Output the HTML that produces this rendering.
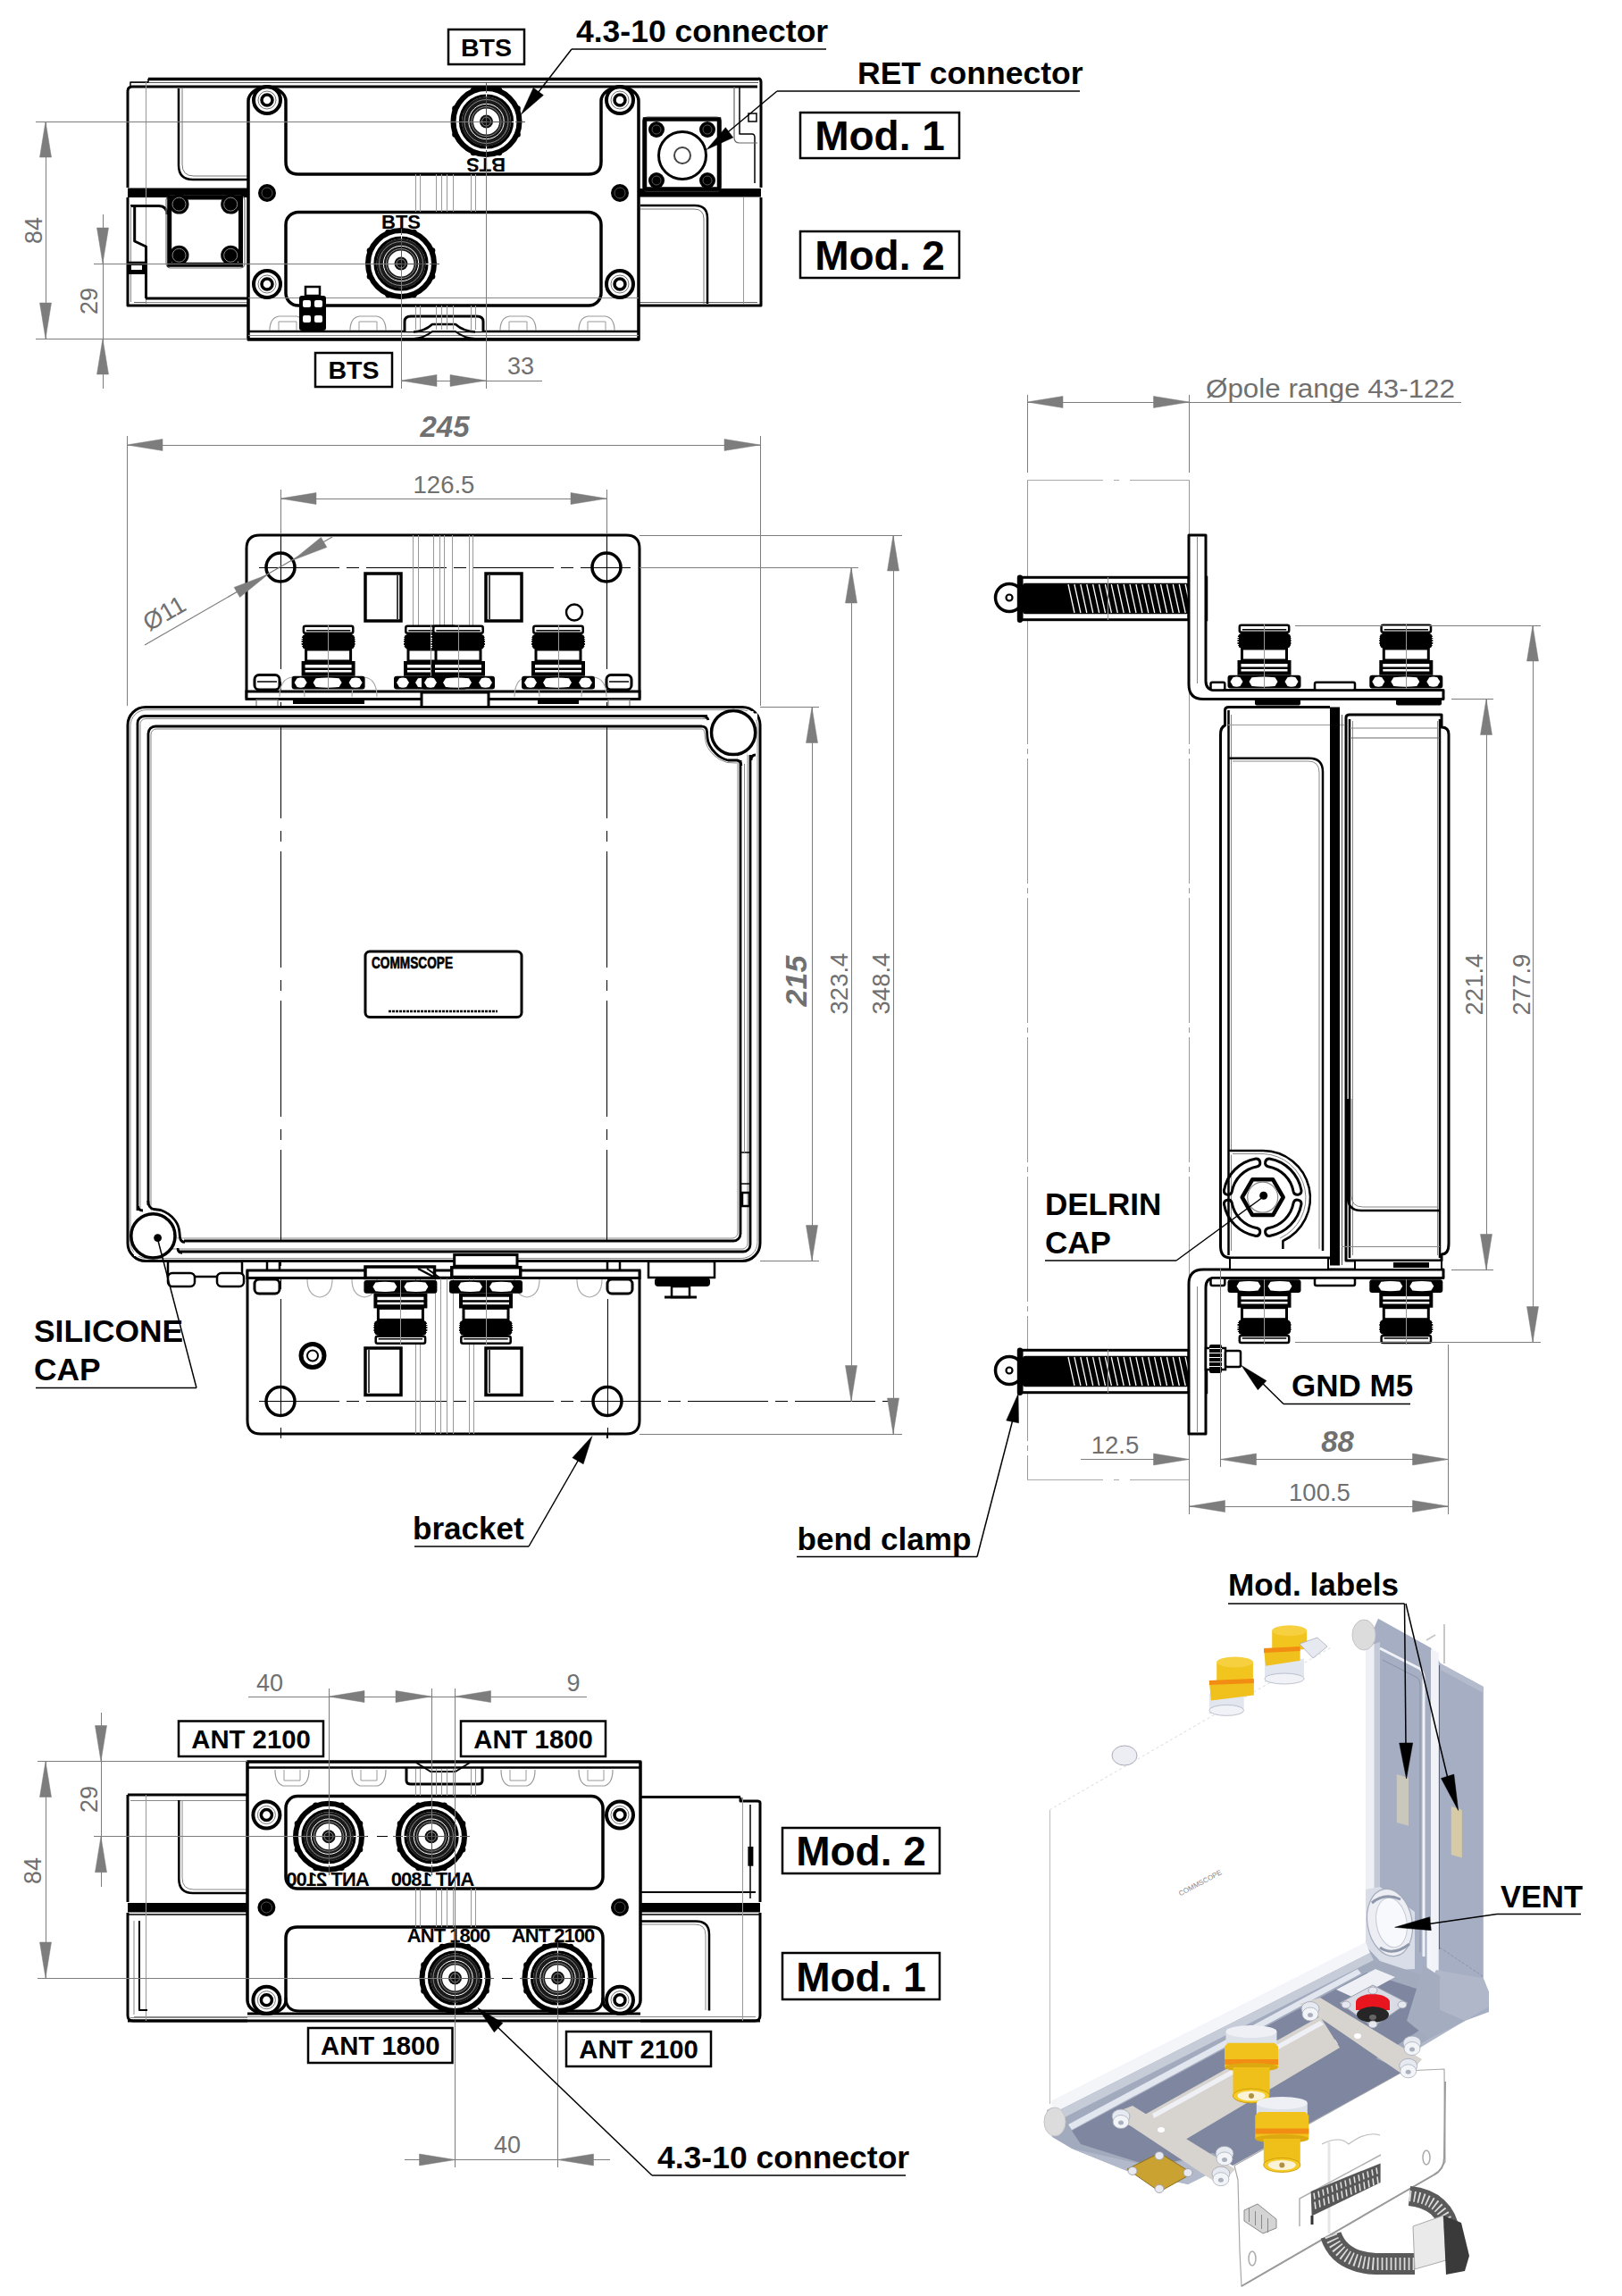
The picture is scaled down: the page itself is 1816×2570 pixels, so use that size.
<!DOCTYPE html>
<html><head><meta charset="utf-8"><style>
html,body{margin:0;padding:0;background:#fff;}
svg{display:block;}
</style></head><body>
<svg width="1816" height="2570" viewBox="0 0 1816 2570" stroke-linecap="butt">
<rect width="1816" height="2570" fill="#fff"/>
<line x1="166" y1="88.6" x2="849" y2="88.6" stroke="#000" stroke-width="3.5" />
<line x1="146" y1="92.5" x2="849" y2="92.5" stroke="#555" stroke-width="1"  shape-rendering="crispEdges"/>
<path d="M143 210 L143 102 Q143 97 148 97 L848 97" stroke="#000" stroke-width="3" fill="none" stroke-linejoin="round" />
<path d="M146 97 L146 92 L166 92 L166 88" stroke="#000" stroke-width="1.5" fill="none" stroke-linejoin="round" />
<path d="M849 88 Q852 88 852 92 L852 210" stroke="#000" stroke-width="3" fill="none" stroke-linejoin="round" />
<rect x="143" y="210.5" width="135" height="10.5" rx="0" fill="#000"/>
<rect x="716" y="211" width="136" height="9.5" rx="0" fill="#000"/>
<path d="M143 221 L143 342 L277 342" stroke="#000" stroke-width="3" fill="none" stroke-linejoin="round" />
<path d="M716 342 L852 342 L852 221" stroke="#000" stroke-width="3" fill="none" stroke-linejoin="round" />
<line x1="150" y1="338" x2="277" y2="338" stroke="#666" stroke-width="1"  shape-rendering="crispEdges"/>
<line x1="716" y1="338" x2="848" y2="338" stroke="#666" stroke-width="1"  shape-rendering="crispEdges"/>
<path d="M200 99 L200 185 Q200 201 216 201 L278 201" stroke="#000" stroke-width="2.5" fill="none" stroke-linejoin="round" />
<path d="M204 99 L204 184 Q204 197 217 197 L278 197" stroke="#777" stroke-width="1" fill="none" stroke-linejoin="round" />
<line x1="163" y1="92" x2="163" y2="340" stroke="#999" stroke-width="1"  shape-rendering="crispEdges"/>
<path d="M150.7 230 L150.7 270 L163.5 276 L163.5 334" stroke="#000" stroke-width="3" fill="none" stroke-linejoin="round" />
<path d="M146 230.6 L178 230.6 Q187 231 187 240" stroke="#000" stroke-width="3" fill="none" stroke-linejoin="round" />
<line x1="146" y1="231" x2="146" y2="338" stroke="#888" stroke-width="1"  shape-rendering="crispEdges"/>
<rect x="143" y="292.7" width="20" height="14.3" rx="0" fill="#000"/>
<rect x="147" y="297" width="12" height="5" rx="0" fill="#fff"/>
<line x1="163" y1="334" x2="277" y2="334" stroke="#000" stroke-width="3" />
<line x1="163" y1="338" x2="277" y2="338" stroke="#888" stroke-width="1"  shape-rendering="crispEdges"/>
<rect x="186" y="219" width="88" height="81" rx="5" stroke="#777" stroke-width="1.2" fill="none" />
<rect x="189.7" y="221" width="79.8" height="75.3" rx="0" stroke="#000" stroke-width="5" fill="none" />
<circle cx="200.5" cy="228.6" r="11" fill="#000"/>
<circle cx="200.5" cy="228.6" r="7.5" stroke="#888" stroke-width="1" fill="none"/>
<circle cx="258.2" cy="228.6" r="11" fill="#000"/>
<circle cx="258.2" cy="228.6" r="7.5" stroke="#888" stroke-width="1" fill="none"/>
<circle cx="200.5" cy="285.8" r="11" fill="#000"/>
<circle cx="200.5" cy="285.8" r="7.5" stroke="#888" stroke-width="1" fill="none"/>
<circle cx="258.2" cy="285.8" r="11" fill="#000"/>
<circle cx="258.2" cy="285.8" r="7.5" stroke="#888" stroke-width="1" fill="none"/>
<path d="M828 97 L828 150 L842 150 Q845 150 845 154 L845 205" stroke="#000" stroke-width="1.5" fill="none" stroke-linejoin="round" />
<path d="M822 97 L822 154 Q822 160 828 160 L848 160" stroke="#666" stroke-width="1.2" fill="none" stroke-linejoin="round" />
<rect x="838" y="127" width="9" height="9" rx="0" stroke="#000" stroke-width="1.5" fill="none" />
<path d="M717 230 L778 230 Q792 230 792 244 L792 340" stroke="#000" stroke-width="2.5" fill="none" stroke-linejoin="round" />
<path d="M717 234 L777 234 Q788 234 788 245 L788 340" stroke="#777" stroke-width="1" fill="none" stroke-linejoin="round" />
<line x1="832" y1="221" x2="832" y2="340" stroke="#999" stroke-width="1"  shape-rendering="crispEdges"/>
<rect x="719.5" y="131" width="88" height="83" rx="5" stroke="#555" stroke-width="1.2" fill="none" />
<rect x="722" y="133.5" width="83" height="78" rx="0" stroke="#000" stroke-width="4.5" fill="none" />
<circle cx="764" cy="174" r="26.5" stroke="#000" stroke-width="3" fill="none"/>
<circle cx="764" cy="174" r="9" stroke="#444" stroke-width="2" fill="none"/>
<circle cx="735" cy="145" r="9" fill="#000"/>
<circle cx="735" cy="145" r="5" stroke="#555" stroke-width="1" fill="none"/>
<circle cx="792" cy="145" r="9" fill="#000"/>
<circle cx="792" cy="145" r="5" stroke="#555" stroke-width="1" fill="none"/>
<circle cx="735" cy="202" r="9" fill="#000"/>
<circle cx="735" cy="202" r="5" stroke="#555" stroke-width="1" fill="none"/>
<circle cx="792" cy="202" r="9" fill="#000"/>
<circle cx="792" cy="202" r="5" stroke="#555" stroke-width="1" fill="none"/>
<path d="M278 380 L278 113 A21 15.5 0 0 1 320 113 L320 181 Q320 195 334 195 L659 195 Q673 195 673 181 L673 113 A21 15.5 0 0 1 715 113 L715 380 Z" stroke="#000" stroke-width="3.5" fill="#fff" stroke-linejoin="round" />
<rect x="320" y="237.5" width="353" height="104.5" rx="14" stroke="#000" stroke-width="3.5" fill="#fff" />
<line x1="278" y1="333" x2="715" y2="333" stroke="#888" stroke-width="1"  shape-rendering="crispEdges"/>
<line x1="278" y1="371" x2="715" y2="371" stroke="#000" stroke-width="2.5" />
<line x1="278" y1="375" x2="715" y2="375" stroke="#888" stroke-width="1"  shape-rendering="crispEdges"/>
<line x1="278" y1="379.5" x2="715" y2="379.5" stroke="#000" stroke-width="3" />
<path d="M453 371 L453 360 Q453 354 460 354 L534 354 Q541 354 541 360 L541 371" stroke="#000" stroke-width="3" fill="#fff" stroke-linejoin="round" />
<path d="M463 371.5 Q475 371 484 363 L510 363 Q519 371 532 371.5" stroke="#000" stroke-width="2.5" fill="none" stroke-linejoin="round" />
<path d="M463 379 Q475 378.5 484 371 L510 371 Q519 378.5 532 379" stroke="#000" stroke-width="2" fill="none" stroke-linejoin="round" />
<path d="M302 370 Q302 356 312 354 L332 354 Q342 356 342 370" stroke="#999" stroke-width="1.2" fill="none" stroke-linejoin="round" />
<path d="M312 370 L312 360 L332 360 L332 370" stroke="#999" stroke-width="1" fill="none" stroke-linejoin="round" />
<path d="M392 370 Q392 356 402 354 L422 354 Q432 356 432 370" stroke="#999" stroke-width="1.2" fill="none" stroke-linejoin="round" />
<path d="M402 370 L402 360 L422 360 L422 370" stroke="#999" stroke-width="1" fill="none" stroke-linejoin="round" />
<path d="M560 370 Q560 356 570 354 L590 354 Q600 356 600 370" stroke="#999" stroke-width="1.2" fill="none" stroke-linejoin="round" />
<path d="M570 370 L570 360 L590 360 L590 370" stroke="#999" stroke-width="1" fill="none" stroke-linejoin="round" />
<path d="M648 370 Q648 356 658 354 L678 354 Q688 356 688 370" stroke="#999" stroke-width="1.2" fill="none" stroke-linejoin="round" />
<path d="M658 370 L658 360 L678 360 L678 370" stroke="#999" stroke-width="1" fill="none" stroke-linejoin="round" />
<line x1="465" y1="195" x2="465" y2="237" stroke="#999" stroke-width="1"  shape-rendering="crispEdges"/>
<line x1="465" y1="342" x2="465" y2="369" stroke="#999" stroke-width="1"  shape-rendering="crispEdges"/>
<line x1="470" y1="195" x2="470" y2="237" stroke="#999" stroke-width="1"  shape-rendering="crispEdges"/>
<line x1="470" y1="342" x2="470" y2="369" stroke="#999" stroke-width="1"  shape-rendering="crispEdges"/>
<line x1="488" y1="195" x2="488" y2="237" stroke="#999" stroke-width="1"  shape-rendering="crispEdges"/>
<line x1="488" y1="342" x2="488" y2="369" stroke="#999" stroke-width="1"  shape-rendering="crispEdges"/>
<line x1="494" y1="195" x2="494" y2="237" stroke="#999" stroke-width="1"  shape-rendering="crispEdges"/>
<line x1="494" y1="342" x2="494" y2="369" stroke="#999" stroke-width="1"  shape-rendering="crispEdges"/>
<line x1="500" y1="195" x2="500" y2="237" stroke="#999" stroke-width="1"  shape-rendering="crispEdges"/>
<line x1="500" y1="342" x2="500" y2="369" stroke="#999" stroke-width="1"  shape-rendering="crispEdges"/>
<line x1="507" y1="195" x2="507" y2="237" stroke="#999" stroke-width="1"  shape-rendering="crispEdges"/>
<line x1="507" y1="342" x2="507" y2="369" stroke="#999" stroke-width="1"  shape-rendering="crispEdges"/>
<line x1="527" y1="195" x2="527" y2="237" stroke="#999" stroke-width="1"  shape-rendering="crispEdges"/>
<line x1="527" y1="342" x2="527" y2="369" stroke="#999" stroke-width="1"  shape-rendering="crispEdges"/>
<line x1="532" y1="195" x2="532" y2="237" stroke="#999" stroke-width="1"  shape-rendering="crispEdges"/>
<line x1="532" y1="342" x2="532" y2="369" stroke="#999" stroke-width="1"  shape-rendering="crispEdges"/>
<circle cx="299" cy="112" r="15" stroke="#000" stroke-width="4" fill="none"/>
<circle cx="299" cy="112" r="10" stroke="#777" stroke-width="1" fill="none"/>
<circle cx="299" cy="112" r="6" stroke="#000" stroke-width="3.5" fill="none"/>
<circle cx="299" cy="112" r="3" fill="#fff"/>
<circle cx="694" cy="112" r="15" stroke="#000" stroke-width="4" fill="none"/>
<circle cx="694" cy="112" r="10" stroke="#777" stroke-width="1" fill="none"/>
<circle cx="694" cy="112" r="6" stroke="#000" stroke-width="3.5" fill="none"/>
<circle cx="694" cy="112" r="3" fill="#fff"/>
<circle cx="299" cy="318" r="15" stroke="#000" stroke-width="4" fill="none"/>
<circle cx="299" cy="318" r="10" stroke="#777" stroke-width="1" fill="none"/>
<circle cx="299" cy="318" r="6" stroke="#000" stroke-width="3.5" fill="none"/>
<circle cx="299" cy="318" r="3" fill="#fff"/>
<circle cx="694" cy="318" r="15" stroke="#000" stroke-width="4" fill="none"/>
<circle cx="694" cy="318" r="10" stroke="#777" stroke-width="1" fill="none"/>
<circle cx="694" cy="318" r="6" stroke="#000" stroke-width="3.5" fill="none"/>
<circle cx="694" cy="318" r="3" fill="#fff"/>
<circle cx="299" cy="216" r="10" fill="#000"/>
<circle cx="299" cy="216" r="6" stroke="#555" stroke-width="1" fill="none"/>
<circle cx="694" cy="216" r="10" fill="#000"/>
<circle cx="694" cy="216" r="6" stroke="#555" stroke-width="1" fill="none"/>
<rect x="342" y="321" width="16" height="10" rx="0" stroke="#000" stroke-width="2.5" fill="#fff" />
<rect x="335" y="331" width="30" height="39" rx="3" fill="#000"/>
<rect x="339" y="336" width="9" height="8" rx="2" fill="#fff"/>
<rect x="352" y="336" width="9" height="8" rx="2" fill="#fff"/>
<rect x="339" y="353" width="9" height="8" rx="2" fill="#fff"/>
<rect x="352" y="353" width="9" height="8" rx="2" fill="#fff"/>
<circle cx="544.5" cy="136" r="37" stroke="#000" stroke-width="6" fill="#fff"/>
<circle cx="579.6" cy="150.5" r="3.2" fill="#000"/>
<circle cx="559" cy="171.1" r="3.2" fill="#000"/>
<circle cx="530" cy="171.1" r="3.2" fill="#000"/>
<circle cx="509.4" cy="150.5" r="3.2" fill="#000"/>
<circle cx="509.4" cy="121.5" r="3.2" fill="#000"/>
<circle cx="530" cy="100.9" r="3.2" fill="#000"/>
<circle cx="559" cy="100.9" r="3.2" fill="#000"/>
<circle cx="579.6" cy="121.5" r="3.2" fill="#000"/>
<circle cx="544.5" cy="136" r="29" stroke="#000" stroke-width="3.2" fill="none"/>
<circle cx="544.5" cy="136" r="21" stroke="#1a1a1a" stroke-width="13" fill="none"/>
<circle cx="544.5" cy="136" r="24.5" stroke="#888" stroke-width="1" fill="none"/>
<circle cx="544.5" cy="136" r="19.7" stroke="#fff" stroke-width="1" fill="none"/>
<circle cx="544.5" cy="136" r="16.5" stroke="#888" stroke-width="1" fill="none"/>
<circle cx="544.5" cy="136" r="7.5" fill="#111"/>
<circle cx="544.5" cy="136" r="5" stroke="#888" stroke-width="1" fill="none"/>
<line x1="501.5" y1="136" x2="587.5" y2="136" stroke="#555" stroke-width="1"  shape-rendering="crispEdges"/>
<line x1="544.5" y1="93" x2="544.5" y2="179" stroke="#555" stroke-width="1"  shape-rendering="crispEdges"/>
<line x1="512.5" y1="136" x2="516.5" y2="136" stroke="#fff" stroke-width="1"  shape-rendering="crispEdges"/>
<line x1="572.5" y1="136" x2="576.5" y2="136" stroke="#fff" stroke-width="1"  shape-rendering="crispEdges"/>
<line x1="544.5" y1="104" x2="544.5" y2="108" stroke="#fff" stroke-width="1"  shape-rendering="crispEdges"/>
<line x1="544.5" y1="164" x2="544.5" y2="168" stroke="#fff" stroke-width="1"  shape-rendering="crispEdges"/>
<circle cx="449" cy="295" r="37" stroke="#000" stroke-width="6" fill="#fff"/>
<circle cx="484.1" cy="309.5" r="3.2" fill="#000"/>
<circle cx="463.5" cy="330.1" r="3.2" fill="#000"/>
<circle cx="434.5" cy="330.1" r="3.2" fill="#000"/>
<circle cx="413.9" cy="309.5" r="3.2" fill="#000"/>
<circle cx="413.9" cy="280.5" r="3.2" fill="#000"/>
<circle cx="434.5" cy="259.9" r="3.2" fill="#000"/>
<circle cx="463.5" cy="259.9" r="3.2" fill="#000"/>
<circle cx="484.1" cy="280.5" r="3.2" fill="#000"/>
<circle cx="449" cy="295" r="29" stroke="#000" stroke-width="3.2" fill="none"/>
<circle cx="449" cy="295" r="21" stroke="#1a1a1a" stroke-width="13" fill="none"/>
<circle cx="449" cy="295" r="24.5" stroke="#888" stroke-width="1" fill="none"/>
<circle cx="449" cy="295" r="19.7" stroke="#fff" stroke-width="1" fill="none"/>
<circle cx="449" cy="295" r="16.5" stroke="#888" stroke-width="1" fill="none"/>
<circle cx="449" cy="295" r="7.5" fill="#111"/>
<circle cx="449" cy="295" r="5" stroke="#888" stroke-width="1" fill="none"/>
<line x1="406" y1="295" x2="492" y2="295" stroke="#555" stroke-width="1"  shape-rendering="crispEdges"/>
<line x1="449" y1="252" x2="449" y2="338" stroke="#555" stroke-width="1"  shape-rendering="crispEdges"/>
<line x1="417" y1="295" x2="421" y2="295" stroke="#fff" stroke-width="1"  shape-rendering="crispEdges"/>
<line x1="477" y1="295" x2="481" y2="295" stroke="#fff" stroke-width="1"  shape-rendering="crispEdges"/>
<line x1="449" y1="263" x2="449" y2="267" stroke="#fff" stroke-width="1"  shape-rendering="crispEdges"/>
<line x1="449" y1="323" x2="449" y2="327" stroke="#fff" stroke-width="1"  shape-rendering="crispEdges"/>
<text x="544" y="193" font-family="Liberation Sans" font-size="22" font-weight="bold" fill="#000" text-anchor="middle" transform="rotate(180 544 185)">BTS</text>
<text x="449" y="256" font-family="Liberation Sans" font-size="22" font-weight="bold" fill="#000" text-anchor="middle" >BTS</text>
<line x1="40" y1="136" x2="544" y2="136" stroke="#7d7d7d" stroke-width="1"  shape-rendering="crispEdges"/>
<line x1="40" y1="379" x2="277" y2="379" stroke="#7d7d7d" stroke-width="1"  shape-rendering="crispEdges"/>
<line x1="51" y1="136" x2="51" y2="379" stroke="#7d7d7d" stroke-width="1"  shape-rendering="crispEdges"/>
<polygon points="51,136 57.5,176 44.5,176" stroke="#7d7d7d" stroke-width="0.5" fill="#7d7d7d" stroke-linejoin="round" />
<polygon points="51,379 44.5,339 57.5,339" stroke="#7d7d7d" stroke-width="0.5" fill="#7d7d7d" stroke-linejoin="round" />
<text x="47" y="258" font-family="Liberation Sans" font-size="27" font-weight="normal" fill="#707070" text-anchor="middle" transform="rotate(-90 47 258)" >84</text>
<line x1="105" y1="295" x2="449" y2="295" stroke="#7d7d7d" stroke-width="1"  shape-rendering="crispEdges"/>
<line x1="115" y1="240" x2="115" y2="435" stroke="#7d7d7d" stroke-width="1"  shape-rendering="crispEdges"/>
<polygon points="115,295 108.5,255 121.5,255" stroke="#7d7d7d" stroke-width="0.5" fill="#7d7d7d" stroke-linejoin="round" />
<polygon points="115,379 121.5,419 108.5,419" stroke="#7d7d7d" stroke-width="0.5" fill="#7d7d7d" stroke-linejoin="round" />
<text x="109" y="337" font-family="Liberation Sans" font-size="27" font-weight="normal" fill="#707070" text-anchor="middle" transform="rotate(-90 109 337)" >29</text>
<line x1="449" y1="298" x2="449" y2="435" stroke="#7d7d7d" stroke-width="1"  shape-rendering="crispEdges"/>
<line x1="544" y1="176" x2="544" y2="435" stroke="#7d7d7d" stroke-width="1"  shape-rendering="crispEdges"/>
<line x1="449" y1="426" x2="607" y2="426" stroke="#7d7d7d" stroke-width="1"  shape-rendering="crispEdges"/>
<polygon points="449,426 489,419.5 489,432.5" stroke="#7d7d7d" stroke-width="0.5" fill="#7d7d7d" stroke-linejoin="round" />
<polygon points="544,426 504,432.5 504,419.5" stroke="#7d7d7d" stroke-width="0.5" fill="#7d7d7d" stroke-linejoin="round" />
<text x="583" y="419" font-family="Liberation Sans" font-size="27" font-weight="normal" fill="#707070" text-anchor="middle" >33</text>
<rect x="502" y="33" width="85" height="39" rx="0" stroke="#000" stroke-width="2.5" fill="none" />
<text x="544.5" y="62.8" font-family="Liberation Sans" font-size="28.5" font-weight="bold" fill="#000" text-anchor="middle" >BTS</text>
<rect x="353" y="395" width="86" height="38" rx="0" stroke="#000" stroke-width="2.5" fill="none" />
<text x="396" y="424.3" font-family="Liberation Sans" font-size="28.5" font-weight="bold" fill="#000" text-anchor="middle" >BTS</text>
<text x="645" y="47" font-family="Liberation Sans" font-size="35.5" font-weight="bold" fill="#000" text-anchor="start" >4.3-10 connector</text>
<line x1="640" y1="55" x2="925" y2="55" stroke="#000" stroke-width="1.5" />
<line x1="640" y1="55" x2="596" y2="112" stroke="#000" stroke-width="1.5" />
<polygon points="583.6,128 597.2,98.2 608.4,106.6" stroke="#000" stroke-width="0.5" fill="#000" stroke-linejoin="round" />
<text x="960" y="94" font-family="Liberation Sans" font-size="35.5" font-weight="bold" fill="#000" text-anchor="start" >RET connector</text>
<line x1="870" y1="102" x2="1209" y2="102" stroke="#000" stroke-width="1.5" />
<line x1="870" y1="102" x2="810" y2="152" stroke="#000" stroke-width="1.5" />
<polygon points="791,167.5 812.4,142.7 820.8,153.9" stroke="#000" stroke-width="0.5" fill="#000" stroke-linejoin="round" />
<rect x="896" y="126" width="178" height="51" rx="0" stroke="#000" stroke-width="2.5" fill="none" />
<text x="985" y="168.1" font-family="Liberation Sans" font-size="46" font-weight="bold" fill="#000" text-anchor="middle" >Mod. 1</text>
<rect x="896" y="259" width="178" height="52" rx="0" stroke="#000" stroke-width="2.5" fill="none" />
<text x="985" y="301.6" font-family="Liberation Sans" font-size="46" font-weight="bold" fill="#000" text-anchor="middle" >Mod. 2</text>
<line x1="314" y1="590" x2="314" y2="1612" stroke="#000" stroke-width="1" stroke-dasharray="130 14 12.5 10.5" stroke-dashoffset="138.5" shape-rendering="crispEdges"/>
<line x1="679" y1="590" x2="679" y2="1612" stroke="#000" stroke-width="1" stroke-dasharray="130 14 12.5 10.5" stroke-dashoffset="138.5" shape-rendering="crispEdges"/>
<path d="M276 782 L276 614 Q276 599 291 599 L701 599 Q716 599 716 614 L716 782" stroke="#000" stroke-width="3" fill="#fff" stroke-linejoin="round" />
<circle cx="314" cy="635" r="16" stroke="#000" stroke-width="3.5" fill="none"/>
<circle cx="679" cy="635" r="16" stroke="#000" stroke-width="3.5" fill="none"/>
<line x1="290" y1="635" x2="706" y2="635" stroke="#000" stroke-width="1" stroke-dasharray="90 8 14 8" shape-rendering="crispEdges"/>
<line x1="314" y1="599" x2="314" y2="660" stroke="#000" stroke-width="1"  shape-rendering="crispEdges"/>
<line x1="679" y1="599" x2="679" y2="660" stroke="#000" stroke-width="1"  shape-rendering="crispEdges"/>
<rect x="409" y="642" width="40" height="53" rx="0" stroke="#000" stroke-width="3.5" fill="none" />
<line x1="445" y1="644" x2="445" y2="693" stroke="#000" stroke-width="1.5" />
<rect x="544" y="642" width="40" height="53" rx="0" stroke="#000" stroke-width="3.5" fill="none" />
<line x1="548" y1="644" x2="548" y2="693" stroke="#000" stroke-width="1.5" />
<circle cx="643" cy="685.5" r="9" stroke="#000" stroke-width="2.5" fill="none"/>
<line x1="462.5" y1="599" x2="462.5" y2="705" stroke="#999" stroke-width="1"  shape-rendering="crispEdges"/>
<line x1="468.5" y1="599" x2="468.5" y2="705" stroke="#999" stroke-width="1"  shape-rendering="crispEdges"/>
<line x1="485" y1="599" x2="485" y2="705" stroke="#999" stroke-width="1"  shape-rendering="crispEdges"/>
<line x1="492.5" y1="599" x2="492.5" y2="705" stroke="#999" stroke-width="1"  shape-rendering="crispEdges"/>
<line x1="497.5" y1="599" x2="497.5" y2="705" stroke="#999" stroke-width="1"  shape-rendering="crispEdges"/>
<line x1="506" y1="599" x2="506" y2="705" stroke="#999" stroke-width="1"  shape-rendering="crispEdges"/>
<line x1="525" y1="599" x2="525" y2="705" stroke="#999" stroke-width="1"  shape-rendering="crispEdges"/>
<line x1="529" y1="599" x2="529" y2="705" stroke="#999" stroke-width="1"  shape-rendering="crispEdges"/>
<line x1="314" y1="660" x2="314" y2="774" stroke="#000" stroke-width="1" stroke-dasharray="130 14 12.5 10.5" stroke-dashoffset="208.5" shape-rendering="crispEdges"/>
<line x1="679" y1="660" x2="679" y2="774" stroke="#000" stroke-width="1" stroke-dasharray="130 14 12.5 10.5" stroke-dashoffset="208.5" shape-rendering="crispEdges"/>
<rect x="276" y="774" width="440" height="8.5" rx="0" stroke="#000" stroke-width="3" fill="#fff" />
<rect x="285" y="755.5" width="28" height="16.5" rx="5" stroke="#000" stroke-width="3" fill="#fff" />
<line x1="288" y1="763" x2="310" y2="763" stroke="#000" stroke-width="1.5" />
<rect x="287" y="783" width="24" height="17" rx="0" stroke="#777" stroke-width="1.2" fill="none" />
<rect x="679" y="755.5" width="28" height="16.5" rx="5" stroke="#000" stroke-width="3" fill="#fff" />
<line x1="682" y1="763" x2="704" y2="763" stroke="#000" stroke-width="1.5" />
<rect x="681" y="783" width="24" height="17" rx="0" stroke="#777" stroke-width="1.2" fill="none" />
<path d="M313 780 Q313 760 327 758 Q341 760 341 780" stroke="#aaa" stroke-width="1.2" fill="none" stroke-linejoin="round" />
<path d="M394 780 Q394 760 408 758 Q422 760 422 780" stroke="#aaa" stroke-width="1.2" fill="none" stroke-linejoin="round" />
<path d="M576 780 Q576 760 590 758 Q604 760 604 780" stroke="#aaa" stroke-width="1.2" fill="none" stroke-linejoin="round" />
<path d="M651 780 Q651 760 665 758 Q679 760 679 780" stroke="#aaa" stroke-width="1.2" fill="none" stroke-linejoin="round" />
<rect x="339.9" y="700.7" width="55.4" height="8" rx="2" stroke="#000" stroke-width="2.5" fill="#fff" />
<line x1="342.9" y1="705.7" x2="392.3" y2="705.7" stroke="#000" stroke-width="1.5" />
<rect x="337.6" y="709.4" width="60" height="17.6" rx="6" fill="#000"/>
<line x1="336.1" y1="711.9" x2="338.6" y2="711.9" stroke="#fff" stroke-width="1"  shape-rendering="crispEdges"/>
<line x1="396.6" y1="711.9" x2="399.1" y2="711.9" stroke="#fff" stroke-width="1"  shape-rendering="crispEdges"/>
<line x1="336.1" y1="714.4" x2="338.6" y2="714.4" stroke="#fff" stroke-width="1"  shape-rendering="crispEdges"/>
<line x1="396.6" y1="714.4" x2="399.1" y2="714.4" stroke="#fff" stroke-width="1"  shape-rendering="crispEdges"/>
<line x1="336.1" y1="716.9" x2="338.6" y2="716.9" stroke="#fff" stroke-width="1"  shape-rendering="crispEdges"/>
<line x1="396.6" y1="716.9" x2="399.1" y2="716.9" stroke="#fff" stroke-width="1"  shape-rendering="crispEdges"/>
<line x1="336.1" y1="719.5" x2="338.6" y2="719.5" stroke="#fff" stroke-width="1"  shape-rendering="crispEdges"/>
<line x1="396.6" y1="719.5" x2="399.1" y2="719.5" stroke="#fff" stroke-width="1"  shape-rendering="crispEdges"/>
<line x1="336.1" y1="722" x2="338.6" y2="722" stroke="#fff" stroke-width="1"  shape-rendering="crispEdges"/>
<line x1="396.6" y1="722" x2="399.1" y2="722" stroke="#fff" stroke-width="1"  shape-rendering="crispEdges"/>
<line x1="336.1" y1="724.5" x2="338.6" y2="724.5" stroke="#fff" stroke-width="1"  shape-rendering="crispEdges"/>
<line x1="396.6" y1="724.5" x2="399.1" y2="724.5" stroke="#fff" stroke-width="1"  shape-rendering="crispEdges"/>
<rect x="342.6" y="727" width="50" height="13" rx="0" stroke="#000" stroke-width="3" fill="#fff" />
<rect x="337.6" y="740" width="60" height="16.7" rx="0" fill="#000"/>
<rect x="341.6" y="744" width="52" height="3.5" rx="0" fill="#fff"/>
<rect x="341.6" y="750" width="52" height="2.5" rx="0" fill="#fff"/>
<rect x="326.6" y="756.7" width="82" height="14.7" rx="3" fill="#000"/>
<path d="M329.6 764.1 L332.6 759.2 Q336.6 757.7 340.6 759.2 L343.6 764.1 L340.6 768.9 Q336.6 770.4 332.6 768.9 Z" stroke="#000" stroke-width="0" fill="#fff" stroke-linejoin="round" />
<path d="M350.6 764.1 L353.6 759.2 Q366.6 757.7 379.6 759.2 L382.6 764.1 L379.6 768.9 Q366.6 770.4 353.6 768.9 Z" stroke="#000" stroke-width="0" fill="#fff" stroke-linejoin="round" />
<path d="M390.6 764.1 L393.6 759.2 Q398.1 757.7 402.6 759.2 L405.6 764.1 L402.6 768.9 Q398.1 770.4 393.6 768.9 Z" stroke="#000" stroke-width="0" fill="#fff" stroke-linejoin="round" />
<line x1="367.6" y1="698.7" x2="367.6" y2="771.7" stroke="#999" stroke-width="1"  shape-rendering="crispEdges"/>
<rect x="454.3" y="700.7" width="55.4" height="8" rx="2" stroke="#000" stroke-width="2.5" fill="#fff" />
<line x1="457.3" y1="705.7" x2="506.7" y2="705.7" stroke="#000" stroke-width="1.5" />
<rect x="452" y="709.4" width="60" height="17.6" rx="6" fill="#000"/>
<line x1="450.5" y1="711.9" x2="453" y2="711.9" stroke="#fff" stroke-width="1"  shape-rendering="crispEdges"/>
<line x1="511" y1="711.9" x2="513.5" y2="711.9" stroke="#fff" stroke-width="1"  shape-rendering="crispEdges"/>
<line x1="450.5" y1="714.4" x2="453" y2="714.4" stroke="#fff" stroke-width="1"  shape-rendering="crispEdges"/>
<line x1="511" y1="714.4" x2="513.5" y2="714.4" stroke="#fff" stroke-width="1"  shape-rendering="crispEdges"/>
<line x1="450.5" y1="716.9" x2="453" y2="716.9" stroke="#fff" stroke-width="1"  shape-rendering="crispEdges"/>
<line x1="511" y1="716.9" x2="513.5" y2="716.9" stroke="#fff" stroke-width="1"  shape-rendering="crispEdges"/>
<line x1="450.5" y1="719.5" x2="453" y2="719.5" stroke="#fff" stroke-width="1"  shape-rendering="crispEdges"/>
<line x1="511" y1="719.5" x2="513.5" y2="719.5" stroke="#fff" stroke-width="1"  shape-rendering="crispEdges"/>
<line x1="450.5" y1="722" x2="453" y2="722" stroke="#fff" stroke-width="1"  shape-rendering="crispEdges"/>
<line x1="511" y1="722" x2="513.5" y2="722" stroke="#fff" stroke-width="1"  shape-rendering="crispEdges"/>
<line x1="450.5" y1="724.5" x2="453" y2="724.5" stroke="#fff" stroke-width="1"  shape-rendering="crispEdges"/>
<line x1="511" y1="724.5" x2="513.5" y2="724.5" stroke="#fff" stroke-width="1"  shape-rendering="crispEdges"/>
<rect x="457" y="727" width="50" height="13" rx="0" stroke="#000" stroke-width="3" fill="#fff" />
<rect x="452" y="740" width="60" height="16.7" rx="0" fill="#000"/>
<rect x="456" y="744" width="52" height="3.5" rx="0" fill="#fff"/>
<rect x="456" y="750" width="52" height="2.5" rx="0" fill="#fff"/>
<rect x="441" y="756.7" width="82" height="14.7" rx="3" fill="#000"/>
<path d="M444 764.1 L447 759.2 Q451 757.7 455 759.2 L458 764.1 L455 768.9 Q451 770.4 447 768.9 Z" stroke="#000" stroke-width="0" fill="#fff" stroke-linejoin="round" />
<path d="M465 764.1 L468 759.2 Q481 757.7 494 759.2 L497 764.1 L494 768.9 Q481 770.4 468 768.9 Z" stroke="#000" stroke-width="0" fill="#fff" stroke-linejoin="round" />
<path d="M505 764.1 L508 759.2 Q512.5 757.7 517 759.2 L520 764.1 L517 768.9 Q512.5 770.4 508 768.9 Z" stroke="#000" stroke-width="0" fill="#fff" stroke-linejoin="round" />
<line x1="482" y1="698.7" x2="482" y2="771.7" stroke="#999" stroke-width="1"  shape-rendering="crispEdges"/>
<rect x="485.3" y="700.7" width="55.4" height="8" rx="2" stroke="#000" stroke-width="2.5" fill="#fff" />
<line x1="488.3" y1="705.7" x2="537.7" y2="705.7" stroke="#000" stroke-width="1.5" />
<rect x="483" y="709.4" width="60" height="17.6" rx="6" fill="#000"/>
<line x1="481.5" y1="711.9" x2="484" y2="711.9" stroke="#fff" stroke-width="1"  shape-rendering="crispEdges"/>
<line x1="542" y1="711.9" x2="544.5" y2="711.9" stroke="#fff" stroke-width="1"  shape-rendering="crispEdges"/>
<line x1="481.5" y1="714.4" x2="484" y2="714.4" stroke="#fff" stroke-width="1"  shape-rendering="crispEdges"/>
<line x1="542" y1="714.4" x2="544.5" y2="714.4" stroke="#fff" stroke-width="1"  shape-rendering="crispEdges"/>
<line x1="481.5" y1="716.9" x2="484" y2="716.9" stroke="#fff" stroke-width="1"  shape-rendering="crispEdges"/>
<line x1="542" y1="716.9" x2="544.5" y2="716.9" stroke="#fff" stroke-width="1"  shape-rendering="crispEdges"/>
<line x1="481.5" y1="719.5" x2="484" y2="719.5" stroke="#fff" stroke-width="1"  shape-rendering="crispEdges"/>
<line x1="542" y1="719.5" x2="544.5" y2="719.5" stroke="#fff" stroke-width="1"  shape-rendering="crispEdges"/>
<line x1="481.5" y1="722" x2="484" y2="722" stroke="#fff" stroke-width="1"  shape-rendering="crispEdges"/>
<line x1="542" y1="722" x2="544.5" y2="722" stroke="#fff" stroke-width="1"  shape-rendering="crispEdges"/>
<line x1="481.5" y1="724.5" x2="484" y2="724.5" stroke="#fff" stroke-width="1"  shape-rendering="crispEdges"/>
<line x1="542" y1="724.5" x2="544.5" y2="724.5" stroke="#fff" stroke-width="1"  shape-rendering="crispEdges"/>
<rect x="488" y="727" width="50" height="13" rx="0" stroke="#000" stroke-width="3" fill="#fff" />
<rect x="483" y="740" width="60" height="16.7" rx="0" fill="#000"/>
<rect x="487" y="744" width="52" height="3.5" rx="0" fill="#fff"/>
<rect x="487" y="750" width="52" height="2.5" rx="0" fill="#fff"/>
<rect x="472" y="756.7" width="82" height="14.7" rx="3" fill="#000"/>
<path d="M475 764.1 L478 759.2 Q482 757.7 486 759.2 L489 764.1 L486 768.9 Q482 770.4 478 768.9 Z" stroke="#000" stroke-width="0" fill="#fff" stroke-linejoin="round" />
<path d="M496 764.1 L499 759.2 Q512 757.7 525 759.2 L528 764.1 L525 768.9 Q512 770.4 499 768.9 Z" stroke="#000" stroke-width="0" fill="#fff" stroke-linejoin="round" />
<path d="M536 764.1 L539 759.2 Q543.5 757.7 548 759.2 L551 764.1 L548 768.9 Q543.5 770.4 539 768.9 Z" stroke="#000" stroke-width="0" fill="#fff" stroke-linejoin="round" />
<line x1="513" y1="698.7" x2="513" y2="771.7" stroke="#999" stroke-width="1"  shape-rendering="crispEdges"/>
<rect x="597.3" y="700.7" width="55.4" height="8" rx="2" stroke="#000" stroke-width="2.5" fill="#fff" />
<line x1="600.3" y1="705.7" x2="649.7" y2="705.7" stroke="#000" stroke-width="1.5" />
<rect x="595" y="709.4" width="60" height="17.6" rx="6" fill="#000"/>
<line x1="593.5" y1="711.9" x2="596" y2="711.9" stroke="#fff" stroke-width="1"  shape-rendering="crispEdges"/>
<line x1="654" y1="711.9" x2="656.5" y2="711.9" stroke="#fff" stroke-width="1"  shape-rendering="crispEdges"/>
<line x1="593.5" y1="714.4" x2="596" y2="714.4" stroke="#fff" stroke-width="1"  shape-rendering="crispEdges"/>
<line x1="654" y1="714.4" x2="656.5" y2="714.4" stroke="#fff" stroke-width="1"  shape-rendering="crispEdges"/>
<line x1="593.5" y1="716.9" x2="596" y2="716.9" stroke="#fff" stroke-width="1"  shape-rendering="crispEdges"/>
<line x1="654" y1="716.9" x2="656.5" y2="716.9" stroke="#fff" stroke-width="1"  shape-rendering="crispEdges"/>
<line x1="593.5" y1="719.5" x2="596" y2="719.5" stroke="#fff" stroke-width="1"  shape-rendering="crispEdges"/>
<line x1="654" y1="719.5" x2="656.5" y2="719.5" stroke="#fff" stroke-width="1"  shape-rendering="crispEdges"/>
<line x1="593.5" y1="722" x2="596" y2="722" stroke="#fff" stroke-width="1"  shape-rendering="crispEdges"/>
<line x1="654" y1="722" x2="656.5" y2="722" stroke="#fff" stroke-width="1"  shape-rendering="crispEdges"/>
<line x1="593.5" y1="724.5" x2="596" y2="724.5" stroke="#fff" stroke-width="1"  shape-rendering="crispEdges"/>
<line x1="654" y1="724.5" x2="656.5" y2="724.5" stroke="#fff" stroke-width="1"  shape-rendering="crispEdges"/>
<rect x="600" y="727" width="50" height="13" rx="0" stroke="#000" stroke-width="3" fill="#fff" />
<rect x="595" y="740" width="60" height="16.7" rx="0" fill="#000"/>
<rect x="599" y="744" width="52" height="3.5" rx="0" fill="#fff"/>
<rect x="599" y="750" width="52" height="2.5" rx="0" fill="#fff"/>
<rect x="584" y="756.7" width="82" height="14.7" rx="3" fill="#000"/>
<path d="M587 764.1 L590 759.2 Q594 757.7 598 759.2 L601 764.1 L598 768.9 Q594 770.4 590 768.9 Z" stroke="#000" stroke-width="0" fill="#fff" stroke-linejoin="round" />
<path d="M608 764.1 L611 759.2 Q624 757.7 637 759.2 L640 764.1 L637 768.9 Q624 770.4 611 768.9 Z" stroke="#000" stroke-width="0" fill="#fff" stroke-linejoin="round" />
<path d="M648 764.1 L651 759.2 Q655.5 757.7 660 759.2 L663 764.1 L660 768.9 Q655.5 770.4 651 768.9 Z" stroke="#000" stroke-width="0" fill="#fff" stroke-linejoin="round" />
<line x1="625" y1="698.7" x2="625" y2="771.7" stroke="#999" stroke-width="1"  shape-rendering="crispEdges"/>
<rect x="328" y="782.5" width="80" height="5.5" rx="0" stroke="#000" stroke-width="0" fill="#000" />
<rect x="472" y="775" width="75" height="24" rx="0" stroke="#000" stroke-width="3" fill="#fff" />
<rect x="602" y="782.5" width="46" height="5.5" rx="0" stroke="#000" stroke-width="0" fill="#000" />
<rect x="143" y="791.5" width="708" height="620" rx="20" stroke="#000" stroke-width="3" fill="#fff" />
<rect x="146" y="794.5" width="702" height="614" rx="18" stroke="#888" stroke-width="1" fill="none" />
<rect x="154" y="801.5" width="686" height="599.5" rx="8" stroke="#000" stroke-width="2.8" fill="none" />
<rect x="157" y="804.5" width="680" height="593.5" rx="6" stroke="#888" stroke-width="1" fill="none" />
<rect x="166" y="813" width="663" height="576" rx="8" stroke="#000" stroke-width="2.8" fill="none" />
<rect x="169" y="816" width="657" height="570" rx="6" stroke="#888" stroke-width="1" fill="none" />
<line x1="314" y1="813" x2="314" y2="1389" stroke="#000" stroke-width="1" stroke-dasharray="130 14 12.5 10.5" stroke-dashoffset="27.5" shape-rendering="crispEdges"/>
<line x1="679" y1="813" x2="679" y2="1389" stroke="#000" stroke-width="1" stroke-dasharray="130 14 12.5 10.5" stroke-dashoffset="27.5" shape-rendering="crispEdges"/>
<rect x="792" y="798.5" width="56" height="7" rx="0" fill="#fff"/>
<rect x="836.5" y="796" width="7" height="49" rx="0" fill="#fff"/>
<rect x="786" y="810" width="46" height="7" rx="0" fill="#fff"/>
<rect x="825.5" y="808" width="7" height="43" rx="0" fill="#fff"/>
<path d="M786 801.5 Q792 801.5 793 806" stroke="#000" stroke-width="2.8" fill="none" stroke-linejoin="round" />
<path d="M846 845 Q841 845 841 851" stroke="#000" stroke-width="2.8" fill="none" stroke-linejoin="round" />
<path d="M786 813.2 Q791 813.2 791.5 819 L792 826 Q793 835 801 843 Q807 849 815 851 L825 851 Q829.8 851.5 829.8 857" stroke="#000" stroke-width="2.8" fill="none" stroke-linejoin="round" />
<path d="M786 816 Q788.5 816 789 821 L789.5 827 Q790.5 837 799 845 Q805 851 814 853.5 L825 854" stroke="#888" stroke-width="1" fill="none" stroke-linejoin="round" />
<circle cx="821.1" cy="820" r="24.6" stroke="#000" stroke-width="3.5" fill="#fff"/>
<rect x="151" y="1355" width="7" height="43" rx="0" fill="#fff"/>
<rect x="150" y="1399" width="50" height="7" rx="0" fill="#fff"/>
<rect x="162.5" y="1349" width="7" height="45" rx="0" fill="#fff"/>
<rect x="165" y="1386.5" width="41" height="7" rx="0" fill="#fff"/>
<path d="M154.6 1350 Q154.6 1355 160 1355" stroke="#000" stroke-width="2.8" fill="none" stroke-linejoin="round" />
<path d="M199 1397 Q199 1402.4 204 1402.4" stroke="#000" stroke-width="2.8" fill="none" stroke-linejoin="round" />
<path d="M165.8 1344 Q165.8 1352 172 1353.5 L180 1354.5 Q190 1358 196 1366 Q200.5 1372 201 1380 L201.5 1385 Q202 1390.3 207 1390.3" stroke="#000" stroke-width="2.8" fill="none" stroke-linejoin="round" />
<circle cx="171.4" cy="1383.4" r="24.6" stroke="#000" stroke-width="3.5" fill="#fff"/>
<circle cx="176.6" cy="1385.6" r="4.4" fill="#000"/>
<rect x="829" y="1290" width="11" height="35" rx="0" stroke="#000" stroke-width="1.5" fill="none" />
<rect x="831" y="1335" width="8" height="15" rx="0" stroke="#000" stroke-width="2.5" fill="none" />
<line x1="833" y1="855" x2="833" y2="1290" stroke="#888" stroke-width="1"  shape-rendering="crispEdges"/>
<rect x="409" y="1065" width="175" height="73.5" rx="5" stroke="#000" stroke-width="3" fill="#fff" />
<text x="416" y="1084" font-family="Liberation Sans" font-size="18" font-weight="bold" fill="#000" text-anchor="start" textLength="91" lengthAdjust="spacingAndGlyphs" stroke="#000" stroke-width="0.6">COMMSCOPE</text>
<line x1="435" y1="1132" x2="557" y2="1132" stroke="#000" stroke-width="2.5" stroke-dasharray="3 1"/>
<rect x="188" y="1412" width="83" height="17" rx="0" stroke="#000" stroke-width="2.5" fill="#fff" />
<rect x="188" y="1425" width="30" height="15" rx="5" stroke="#000" stroke-width="2.5" fill="#fff" />
<rect x="243" y="1425" width="30" height="15" rx="5" stroke="#000" stroke-width="2.5" fill="#fff" />
<path d="M277 1422 L277 1590 Q277 1605 292 1605 L701 1605 Q716 1605 716 1590 L716 1422" stroke="#000" stroke-width="3" fill="#fff" stroke-linejoin="round" />
<rect x="277" y="1422" width="439" height="8.5" rx="0" stroke="#000" stroke-width="3" fill="#fff" />
<line x1="299" y1="1412" x2="299" y2="1422" stroke="#000" stroke-width="2.5" />
<line x1="313" y1="1412" x2="313" y2="1422" stroke="#000" stroke-width="2.5" />
<line x1="680" y1="1412" x2="680" y2="1422" stroke="#000" stroke-width="2.5" />
<line x1="694" y1="1412" x2="694" y2="1422" stroke="#000" stroke-width="2.5" />
<rect x="285" y="1432" width="28" height="16" rx="5" stroke="#000" stroke-width="3" fill="#fff" />
<rect x="680" y="1432" width="28" height="16" rx="5" stroke="#000" stroke-width="3" fill="#fff" />
<line x1="314" y1="1430" x2="314" y2="1612" stroke="#000" stroke-width="1" stroke-dasharray="130 14 12.5 10.5" stroke-dashoffset="143.5" shape-rendering="crispEdges"/>
<line x1="680" y1="1430" x2="680" y2="1612" stroke="#000" stroke-width="1" stroke-dasharray="130 14 12.5 10.5" stroke-dashoffset="143.5" shape-rendering="crispEdges"/>
<circle cx="314" cy="1568.5" r="16" stroke="#000" stroke-width="3.5" fill="none"/>
<circle cx="680" cy="1568.5" r="16" stroke="#000" stroke-width="3.5" fill="none"/>
<line x1="290" y1="1568.5" x2="1010" y2="1568.5" stroke="#000" stroke-width="1" stroke-dasharray="90 8 14 8" shape-rendering="crispEdges"/>
<rect x="409" y="1509" width="40" height="52.5" rx="0" stroke="#000" stroke-width="3.5" fill="none" />
<line x1="413" y1="1511" x2="413" y2="1559" stroke="#000" stroke-width="1.5" />
<rect x="544" y="1509" width="40" height="52.5" rx="0" stroke="#000" stroke-width="3.5" fill="none" />
<line x1="548" y1="1511" x2="548" y2="1559" stroke="#000" stroke-width="1.5" />
<circle cx="350" cy="1517.5" r="13" stroke="#000" stroke-width="5" fill="none"/>
<circle cx="350" cy="1517.5" r="6" stroke="#000" stroke-width="2" fill="none"/>
<line x1="465" y1="1430" x2="465" y2="1605" stroke="#999" stroke-width="1"  shape-rendering="crispEdges"/>
<line x1="470" y1="1430" x2="470" y2="1605" stroke="#999" stroke-width="1"  shape-rendering="crispEdges"/>
<line x1="487" y1="1430" x2="487" y2="1605" stroke="#999" stroke-width="1"  shape-rendering="crispEdges"/>
<line x1="493" y1="1430" x2="493" y2="1605" stroke="#999" stroke-width="1"  shape-rendering="crispEdges"/>
<line x1="500" y1="1430" x2="500" y2="1605" stroke="#999" stroke-width="1"  shape-rendering="crispEdges"/>
<line x1="507" y1="1430" x2="507" y2="1605" stroke="#999" stroke-width="1"  shape-rendering="crispEdges"/>
<line x1="525" y1="1430" x2="525" y2="1605" stroke="#999" stroke-width="1"  shape-rendering="crispEdges"/>
<line x1="530" y1="1430" x2="530" y2="1605" stroke="#999" stroke-width="1"  shape-rendering="crispEdges"/>
<path d="M344 1432 Q344 1450 358 1452 Q372 1450 372 1432" stroke="#aaa" stroke-width="1.2" fill="none" stroke-linejoin="round" />
<path d="M394 1432 Q394 1450 408 1452 Q422 1450 422 1432" stroke="#aaa" stroke-width="1.2" fill="none" stroke-linejoin="round" />
<path d="M576 1432 Q576 1450 590 1452 Q604 1450 604 1432" stroke="#aaa" stroke-width="1.2" fill="none" stroke-linejoin="round" />
<path d="M646 1432 Q646 1450 660 1452 Q674 1450 674 1432" stroke="#aaa" stroke-width="1.2" fill="none" stroke-linejoin="round" />
<rect x="420.7" y="1495.7" width="55.4" height="8" rx="2" stroke="#000" stroke-width="2.5" fill="#fff" />
<line x1="423.7" y1="1498.7" x2="473.1" y2="1498.7" stroke="#000" stroke-width="1.5" />
<rect x="418.4" y="1477.4" width="60" height="17.6" rx="6" fill="#000"/>
<line x1="416.9" y1="1479.9" x2="419.4" y2="1479.9" stroke="#fff" stroke-width="1"  shape-rendering="crispEdges"/>
<line x1="477.4" y1="1479.9" x2="479.9" y2="1479.9" stroke="#fff" stroke-width="1"  shape-rendering="crispEdges"/>
<line x1="416.9" y1="1482.4" x2="419.4" y2="1482.4" stroke="#fff" stroke-width="1"  shape-rendering="crispEdges"/>
<line x1="477.4" y1="1482.4" x2="479.9" y2="1482.4" stroke="#fff" stroke-width="1"  shape-rendering="crispEdges"/>
<line x1="416.9" y1="1484.9" x2="419.4" y2="1484.9" stroke="#fff" stroke-width="1"  shape-rendering="crispEdges"/>
<line x1="477.4" y1="1484.9" x2="479.9" y2="1484.9" stroke="#fff" stroke-width="1"  shape-rendering="crispEdges"/>
<line x1="416.9" y1="1487.5" x2="419.4" y2="1487.5" stroke="#fff" stroke-width="1"  shape-rendering="crispEdges"/>
<line x1="477.4" y1="1487.5" x2="479.9" y2="1487.5" stroke="#fff" stroke-width="1"  shape-rendering="crispEdges"/>
<line x1="416.9" y1="1490" x2="419.4" y2="1490" stroke="#fff" stroke-width="1"  shape-rendering="crispEdges"/>
<line x1="477.4" y1="1490" x2="479.9" y2="1490" stroke="#fff" stroke-width="1"  shape-rendering="crispEdges"/>
<line x1="416.9" y1="1492.5" x2="419.4" y2="1492.5" stroke="#fff" stroke-width="1"  shape-rendering="crispEdges"/>
<line x1="477.4" y1="1492.5" x2="479.9" y2="1492.5" stroke="#fff" stroke-width="1"  shape-rendering="crispEdges"/>
<rect x="423.4" y="1464.4" width="50" height="13" rx="0" stroke="#000" stroke-width="3" fill="#fff" />
<rect x="418.4" y="1447.7" width="60" height="16.7" rx="0" fill="#000"/>
<rect x="422.4" y="1451.7" width="52" height="3.5" rx="0" fill="#fff"/>
<rect x="422.4" y="1457.7" width="52" height="2.5" rx="0" fill="#fff"/>
<rect x="407.4" y="1433" width="82" height="14.7" rx="3" fill="#000"/>
<path d="M417.4 1440.3 L420.4 1435.5 Q430.9 1434 441.4 1435.5 L444.4 1440.3 L441.4 1445.2 Q430.9 1446.7 420.4 1445.2 Z" stroke="#000" stroke-width="0" fill="#fff" stroke-linejoin="round" />
<path d="M452.4 1440.3 L455.4 1435.5 Q465.9 1434 476.4 1435.5 L479.4 1440.3 L476.4 1445.2 Q465.9 1446.7 455.4 1445.2 Z" stroke="#000" stroke-width="0" fill="#fff" stroke-linejoin="round" />
<line x1="448.4" y1="1505.7" x2="448.4" y2="1432.7" stroke="#999" stroke-width="1"  shape-rendering="crispEdges"/>
<rect x="516.3" y="1495.7" width="55.4" height="8" rx="2" stroke="#000" stroke-width="2.5" fill="#fff" />
<line x1="519.3" y1="1498.7" x2="568.7" y2="1498.7" stroke="#000" stroke-width="1.5" />
<rect x="514" y="1477.4" width="60" height="17.6" rx="6" fill="#000"/>
<line x1="512.5" y1="1479.9" x2="515" y2="1479.9" stroke="#fff" stroke-width="1"  shape-rendering="crispEdges"/>
<line x1="573" y1="1479.9" x2="575.5" y2="1479.9" stroke="#fff" stroke-width="1"  shape-rendering="crispEdges"/>
<line x1="512.5" y1="1482.4" x2="515" y2="1482.4" stroke="#fff" stroke-width="1"  shape-rendering="crispEdges"/>
<line x1="573" y1="1482.4" x2="575.5" y2="1482.4" stroke="#fff" stroke-width="1"  shape-rendering="crispEdges"/>
<line x1="512.5" y1="1484.9" x2="515" y2="1484.9" stroke="#fff" stroke-width="1"  shape-rendering="crispEdges"/>
<line x1="573" y1="1484.9" x2="575.5" y2="1484.9" stroke="#fff" stroke-width="1"  shape-rendering="crispEdges"/>
<line x1="512.5" y1="1487.5" x2="515" y2="1487.5" stroke="#fff" stroke-width="1"  shape-rendering="crispEdges"/>
<line x1="573" y1="1487.5" x2="575.5" y2="1487.5" stroke="#fff" stroke-width="1"  shape-rendering="crispEdges"/>
<line x1="512.5" y1="1490" x2="515" y2="1490" stroke="#fff" stroke-width="1"  shape-rendering="crispEdges"/>
<line x1="573" y1="1490" x2="575.5" y2="1490" stroke="#fff" stroke-width="1"  shape-rendering="crispEdges"/>
<line x1="512.5" y1="1492.5" x2="515" y2="1492.5" stroke="#fff" stroke-width="1"  shape-rendering="crispEdges"/>
<line x1="573" y1="1492.5" x2="575.5" y2="1492.5" stroke="#fff" stroke-width="1"  shape-rendering="crispEdges"/>
<rect x="519" y="1464.4" width="50" height="13" rx="0" stroke="#000" stroke-width="3" fill="#fff" />
<rect x="514" y="1447.7" width="60" height="16.7" rx="0" fill="#000"/>
<rect x="518" y="1451.7" width="52" height="3.5" rx="0" fill="#fff"/>
<rect x="518" y="1457.7" width="52" height="2.5" rx="0" fill="#fff"/>
<rect x="503" y="1433" width="82" height="14.7" rx="3" fill="#000"/>
<path d="M513 1440.3 L516 1435.5 Q526.5 1434 537 1435.5 L540 1440.3 L537 1445.2 Q526.5 1446.7 516 1445.2 Z" stroke="#000" stroke-width="0" fill="#fff" stroke-linejoin="round" />
<path d="M548 1440.3 L551 1435.5 Q561.5 1434 572 1435.5 L575 1440.3 L572 1445.2 Q561.5 1446.7 551 1445.2 Z" stroke="#000" stroke-width="0" fill="#fff" stroke-linejoin="round" />
<line x1="544" y1="1505.7" x2="544" y2="1432.7" stroke="#999" stroke-width="1"  shape-rendering="crispEdges"/>
<rect x="409" y="1418" width="77.5" height="12.5" rx="0" stroke="#000" stroke-width="3.5" fill="#fff" />
<rect x="505.8" y="1418.7" width="76.9" height="10.8" rx="0" stroke="#000" stroke-width="3.5" fill="#fff" />
<rect x="508.7" y="1404.6" width="70.3" height="12.6" rx="0" stroke="#000" stroke-width="3" fill="#fff" />
<path d="M468 1420 L487 1430 L505 1430" stroke="#000" stroke-width="2.5" fill="none" stroke-linejoin="round" />
<path d="M478 1420 L492 1430 L505 1430" stroke="#000" stroke-width="2" fill="none" stroke-linejoin="round" />
<rect x="726" y="1412" width="74" height="18" rx="0" stroke="#000" stroke-width="2.5" fill="#fff" />
<rect x="733" y="1430" width="62" height="10" rx="4" stroke="#000" stroke-width="0" fill="#000" />
<rect x="752" y="1440" width="20" height="12" rx="0" stroke="#000" stroke-width="2.5" fill="#fff" />
<line x1="744" y1="1452" x2="780" y2="1452" stroke="#000" stroke-width="3" />
<line x1="142" y1="488" x2="142" y2="790" stroke="#7d7d7d" stroke-width="1"  shape-rendering="crispEdges"/>
<line x1="851" y1="488" x2="851" y2="790" stroke="#7d7d7d" stroke-width="1"  shape-rendering="crispEdges"/>
<line x1="142" y1="498" x2="851" y2="498" stroke="#7d7d7d" stroke-width="1"  shape-rendering="crispEdges"/>
<polygon points="142,498 182,491.5 182,504.5" stroke="#7d7d7d" stroke-width="0.5" fill="#7d7d7d" stroke-linejoin="round" />
<polygon points="851,498 811,504.5 811,491.5" stroke="#7d7d7d" stroke-width="0.5" fill="#7d7d7d" stroke-linejoin="round" />
<text x="498" y="489" font-family="Liberation Sans" font-size="33" font-weight="bold" fill="#707070" text-anchor="middle" font-style="italic" >245</text>
<line x1="314" y1="548" x2="314" y2="598" stroke="#7d7d7d" stroke-width="1"  shape-rendering="crispEdges"/>
<line x1="679" y1="548" x2="679" y2="598" stroke="#7d7d7d" stroke-width="1"  shape-rendering="crispEdges"/>
<line x1="314" y1="558" x2="679" y2="558" stroke="#7d7d7d" stroke-width="1"  shape-rendering="crispEdges"/>
<polygon points="314,558 354,551.5 354,564.5" stroke="#7d7d7d" stroke-width="0.5" fill="#7d7d7d" stroke-linejoin="round" />
<polygon points="679,558 639,564.5 639,551.5" stroke="#7d7d7d" stroke-width="0.5" fill="#7d7d7d" stroke-linejoin="round" />
<text x="497" y="552" font-family="Liberation Sans" font-size="27.5" font-weight="normal" fill="#707070" text-anchor="middle" >126.5</text>
<line x1="162" y1="722" x2="372" y2="601" stroke="#7d7d7d" stroke-width="1.2" />
<polygon points="300,643 268.6,668.6 262.1,657.4" stroke="#7d7d7d" stroke-width="0.5" fill="#7d7d7d" stroke-linejoin="round" />
<polygon points="328,627 359.4,601.4 365.9,612.6" stroke="#7d7d7d" stroke-width="0.5" fill="#7d7d7d" stroke-linejoin="round" />
<text x="167" y="707" font-family="Liberation Sans" font-size="27.5" font-weight="normal" fill="#707070" text-anchor="start" transform="rotate(-30 167 707)" >Ø11</text>
<line x1="851" y1="791.5" x2="917" y2="791.5" stroke="#7d7d7d" stroke-width="1"  shape-rendering="crispEdges"/>
<line x1="851" y1="1411.5" x2="917" y2="1411.5" stroke="#7d7d7d" stroke-width="1"  shape-rendering="crispEdges"/>
<line x1="909" y1="791.5" x2="909" y2="1411.5" stroke="#7d7d7d" stroke-width="1"  shape-rendering="crispEdges"/>
<polygon points="909,791.5 915.5,831.5 902.5,831.5" stroke="#7d7d7d" stroke-width="0.5" fill="#7d7d7d" stroke-linejoin="round" />
<polygon points="909,1411.5 902.5,1371.5 915.5,1371.5" stroke="#7d7d7d" stroke-width="0.5" fill="#7d7d7d" stroke-linejoin="round" />
<text x="903" y="1098" font-family="Liberation Sans" font-size="34" font-weight="bold" fill="#707070" text-anchor="middle" font-style="italic" transform="rotate(-90 903 1098)" >215</text>
<line x1="716" y1="635" x2="961" y2="635" stroke="#7d7d7d" stroke-width="1"  shape-rendering="crispEdges"/>
<line x1="953" y1="635" x2="953" y2="1568.5" stroke="#7d7d7d" stroke-width="1"  shape-rendering="crispEdges"/>
<polygon points="953,635 959.5,675 946.5,675" stroke="#7d7d7d" stroke-width="0.5" fill="#7d7d7d" stroke-linejoin="round" />
<polygon points="953,1568.5 946.5,1528.5 959.5,1528.5" stroke="#7d7d7d" stroke-width="0.5" fill="#7d7d7d" stroke-linejoin="round" />
<text x="948.5" y="1101" font-family="Liberation Sans" font-size="27.5" font-weight="normal" fill="#707070" text-anchor="middle" transform="rotate(-90 948.5 1101)" >323.4</text>
<line x1="716" y1="599" x2="1010" y2="599" stroke="#7d7d7d" stroke-width="1"  shape-rendering="crispEdges"/>
<line x1="716" y1="1605" x2="1010" y2="1605" stroke="#7d7d7d" stroke-width="1"  shape-rendering="crispEdges"/>
<line x1="1000" y1="599" x2="1000" y2="1605" stroke="#7d7d7d" stroke-width="1"  shape-rendering="crispEdges"/>
<polygon points="1000,599 1006.5,639 993.5,639" stroke="#7d7d7d" stroke-width="0.5" fill="#7d7d7d" stroke-linejoin="round" />
<polygon points="1000,1605 993.5,1565 1006.5,1565" stroke="#7d7d7d" stroke-width="0.5" fill="#7d7d7d" stroke-linejoin="round" />
<text x="996" y="1101" font-family="Liberation Sans" font-size="27.5" font-weight="normal" fill="#707070" text-anchor="middle" transform="rotate(-90 996 1101)" >348.4</text>
<text x="38" y="1501.5" font-family="Liberation Sans" font-size="35.4" font-weight="bold" fill="#000" text-anchor="start" >SILICONE</text>
<text x="38" y="1545" font-family="Liberation Sans" font-size="35.4" font-weight="bold" fill="#000" text-anchor="start" >CAP</text>
<line x1="40" y1="1553.5" x2="220" y2="1553.5" stroke="#000" stroke-width="1.5" />
<line x1="220" y1="1553.5" x2="176" y2="1385" stroke="#000" stroke-width="1.5" />
<text x="462" y="1722.5" font-family="Liberation Sans" font-size="35.1" font-weight="bold" fill="#000" text-anchor="start" >bracket</text>
<line x1="464" y1="1731" x2="592" y2="1731" stroke="#000" stroke-width="1.5" />
<line x1="592" y1="1731" x2="650" y2="1630" stroke="#000" stroke-width="1.5" />
<polygon points="663,1607.5 653.1,1638.7 640.9,1631.7" stroke="#000" stroke-width="0.5" fill="#000" stroke-linejoin="round" />
<line x1="1150" y1="442" x2="1150" y2="529" stroke="#7d7d7d" stroke-width="1"  shape-rendering="crispEdges"/>
<line x1="1331.5" y1="442" x2="1331.5" y2="529" stroke="#7d7d7d" stroke-width="1"  shape-rendering="crispEdges"/>
<line x1="1150" y1="537" x2="1150" y2="1656.5" stroke="#999" stroke-width="1" stroke-dasharray="140 5 6 5" shape-rendering="crispEdges"/>
<line x1="1331.5" y1="537" x2="1331.5" y2="1656.5" stroke="#999" stroke-width="1" stroke-dasharray="140 5 6 5" shape-rendering="crispEdges"/>
<line x1="1150" y1="537" x2="1331.5" y2="537" stroke="#aaa" stroke-width="1" stroke-dasharray="85 12 6 12 200" shape-rendering="crispEdges"/>
<line x1="1150" y1="1656.5" x2="1331.5" y2="1656.5" stroke="#aaa" stroke-width="1" stroke-dasharray="85 12 6 12 200" shape-rendering="crispEdges"/>
<line x1="1150" y1="450" x2="1636" y2="450" stroke="#7d7d7d" stroke-width="1"  shape-rendering="crispEdges"/>
<polygon points="1150,450 1190,443.5 1190,456.5" stroke="#7d7d7d" stroke-width="0.5" fill="#7d7d7d" stroke-linejoin="round" />
<polygon points="1331.5,450 1291.5,456.5 1291.5,443.5" stroke="#7d7d7d" stroke-width="0.5" fill="#7d7d7d" stroke-linejoin="round" />
<text x="1350" y="445" font-family="Liberation Sans" font-size="29.2" font-weight="normal" fill="#707070" text-anchor="start" textLength="279" lengthAdjust="spacingAndGlyphs">Øpole range 43-122</text>
<circle cx="1130" cy="669" r="15.5" stroke="#000" stroke-width="3.5" fill="#fff"/>
<circle cx="1130" cy="669" r="3.5" stroke="#000" stroke-width="2.2" fill="none"/>
<rect x="1144" y="646.3" width="187" height="47.4" rx="0" stroke="#000" stroke-width="3" fill="#fff" />
<rect x="1145" y="652.8" width="186" height="34.5" rx="3" fill="#000"/>
<line x1="1196" y1="654" x2="1203" y2="686" stroke="#fff" stroke-width="1.3" />
<line x1="1202.9" y1="654" x2="1209.9" y2="686" stroke="#fff" stroke-width="1.3" />
<line x1="1209.8" y1="654" x2="1216.8" y2="686" stroke="#fff" stroke-width="1.3" />
<line x1="1216.7" y1="654" x2="1223.7" y2="686" stroke="#fff" stroke-width="1.3" />
<line x1="1223.6" y1="654" x2="1230.6" y2="686" stroke="#fff" stroke-width="1.3" />
<line x1="1230.5" y1="654" x2="1237.5" y2="686" stroke="#fff" stroke-width="1.3" />
<line x1="1237.4" y1="654" x2="1244.4" y2="686" stroke="#fff" stroke-width="1.3" />
<line x1="1244.3" y1="654" x2="1251.3" y2="686" stroke="#fff" stroke-width="1.3" />
<line x1="1251.2" y1="654" x2="1258.2" y2="686" stroke="#fff" stroke-width="1.3" />
<line x1="1258.1" y1="654" x2="1265.1" y2="686" stroke="#fff" stroke-width="1.3" />
<line x1="1265" y1="654" x2="1272" y2="686" stroke="#fff" stroke-width="1.3" />
<line x1="1271.9" y1="654" x2="1278.9" y2="686" stroke="#fff" stroke-width="1.3" />
<line x1="1278.8" y1="654" x2="1285.8" y2="686" stroke="#fff" stroke-width="1.3" />
<line x1="1285.7" y1="654" x2="1292.7" y2="686" stroke="#fff" stroke-width="1.3" />
<line x1="1292.6" y1="654" x2="1299.6" y2="686" stroke="#fff" stroke-width="1.3" />
<line x1="1299.5" y1="654" x2="1306.5" y2="686" stroke="#fff" stroke-width="1.3" />
<line x1="1306.4" y1="654" x2="1313.4" y2="686" stroke="#fff" stroke-width="1.3" />
<line x1="1313.3" y1="654" x2="1320.3" y2="686" stroke="#fff" stroke-width="1.3" />
<line x1="1320.2" y1="654" x2="1327.2" y2="686" stroke="#fff" stroke-width="1.3" />
<line x1="1327.1" y1="654" x2="1334.1" y2="686" stroke="#fff" stroke-width="1.3" />
<line x1="1240" y1="646" x2="1240" y2="694" stroke="#999" stroke-width="1"  shape-rendering="crispEdges"/>
<rect x="1138.8" y="643.5" width="6.2" height="53.5" rx="3" stroke="#000" stroke-width="0" fill="#000" />
<rect x="1340.5" y="646" width="10.5" height="48" rx="0" stroke="#000" stroke-width="2.5" fill="#fff" />
<path d="M1343 688 L1343 654 L1349 686 L1349 652" stroke="#000" stroke-width="2" fill="none" stroke-linejoin="round" />
<circle cx="1130" cy="1534" r="15.5" stroke="#000" stroke-width="3.5" fill="#fff"/>
<circle cx="1130" cy="1534" r="3.5" stroke="#000" stroke-width="2.2" fill="none"/>
<rect x="1144" y="1511.3" width="187" height="47.4" rx="0" stroke="#000" stroke-width="3" fill="#fff" />
<rect x="1145" y="1517.8" width="186" height="34.5" rx="3" fill="#000"/>
<line x1="1196" y1="1519" x2="1203" y2="1551" stroke="#fff" stroke-width="1.3" />
<line x1="1202.9" y1="1519" x2="1209.9" y2="1551" stroke="#fff" stroke-width="1.3" />
<line x1="1209.8" y1="1519" x2="1216.8" y2="1551" stroke="#fff" stroke-width="1.3" />
<line x1="1216.7" y1="1519" x2="1223.7" y2="1551" stroke="#fff" stroke-width="1.3" />
<line x1="1223.6" y1="1519" x2="1230.6" y2="1551" stroke="#fff" stroke-width="1.3" />
<line x1="1230.5" y1="1519" x2="1237.5" y2="1551" stroke="#fff" stroke-width="1.3" />
<line x1="1237.4" y1="1519" x2="1244.4" y2="1551" stroke="#fff" stroke-width="1.3" />
<line x1="1244.3" y1="1519" x2="1251.3" y2="1551" stroke="#fff" stroke-width="1.3" />
<line x1="1251.2" y1="1519" x2="1258.2" y2="1551" stroke="#fff" stroke-width="1.3" />
<line x1="1258.1" y1="1519" x2="1265.1" y2="1551" stroke="#fff" stroke-width="1.3" />
<line x1="1265" y1="1519" x2="1272" y2="1551" stroke="#fff" stroke-width="1.3" />
<line x1="1271.9" y1="1519" x2="1278.9" y2="1551" stroke="#fff" stroke-width="1.3" />
<line x1="1278.8" y1="1519" x2="1285.8" y2="1551" stroke="#fff" stroke-width="1.3" />
<line x1="1285.7" y1="1519" x2="1292.7" y2="1551" stroke="#fff" stroke-width="1.3" />
<line x1="1292.6" y1="1519" x2="1299.6" y2="1551" stroke="#fff" stroke-width="1.3" />
<line x1="1299.5" y1="1519" x2="1306.5" y2="1551" stroke="#fff" stroke-width="1.3" />
<line x1="1306.4" y1="1519" x2="1313.4" y2="1551" stroke="#fff" stroke-width="1.3" />
<line x1="1313.3" y1="1519" x2="1320.3" y2="1551" stroke="#fff" stroke-width="1.3" />
<line x1="1320.2" y1="1519" x2="1327.2" y2="1551" stroke="#fff" stroke-width="1.3" />
<line x1="1327.1" y1="1519" x2="1334.1" y2="1551" stroke="#fff" stroke-width="1.3" />
<line x1="1240" y1="1511" x2="1240" y2="1559" stroke="#999" stroke-width="1"  shape-rendering="crispEdges"/>
<rect x="1138.8" y="1508.5" width="6.2" height="53.5" rx="3" stroke="#000" stroke-width="0" fill="#000" />
<rect x="1340.5" y="1511" width="10.5" height="48" rx="0" stroke="#000" stroke-width="2.5" fill="#fff" />
<path d="M1343 1553 L1343 1519 L1349 1551 L1349 1517" stroke="#000" stroke-width="2" fill="none" stroke-linejoin="round" />
<path d="M1331 599 L1350 599 L1350 762 Q1350 772.5 1360 772.5 L1616 772.5 L1616 782.5 L1347 782.5 Q1331 782.5 1331 766 Z" stroke="#000" stroke-width="3" fill="#fff" stroke-linejoin="round" />
<line x1="1340" y1="601" x2="1340" y2="765" stroke="#888" stroke-width="1"  shape-rendering="crispEdges"/>
<path d="M1331 1605 L1350 1605 L1350 1441 Q1350 1430.5 1360 1430.5 L1616 1430.5 L1616 1421 L1347 1421 Q1331 1421 1331 1437 Z" stroke="#000" stroke-width="3" fill="#fff" stroke-linejoin="round" />
<line x1="1340" y1="1440" x2="1340" y2="1603" stroke="#888" stroke-width="1"  shape-rendering="crispEdges"/>
<rect x="1350" y="1509" width="22" height="24" rx="0" stroke="#000" stroke-width="2.5" fill="#fff" />
<rect x="1354" y="1505" width="14" height="32" rx="2" fill="#000"/>
<line x1="1354" y1="1509" x2="1368" y2="1509" stroke="#fff" stroke-width="1"  shape-rendering="crispEdges"/>
<line x1="1354" y1="1514" x2="1368" y2="1514" stroke="#fff" stroke-width="1"  shape-rendering="crispEdges"/>
<line x1="1354" y1="1519" x2="1368" y2="1519" stroke="#fff" stroke-width="1"  shape-rendering="crispEdges"/>
<line x1="1354" y1="1524" x2="1368" y2="1524" stroke="#fff" stroke-width="1"  shape-rendering="crispEdges"/>
<line x1="1354" y1="1529" x2="1368" y2="1529" stroke="#fff" stroke-width="1"  shape-rendering="crispEdges"/>
<rect x="1372" y="1512" width="17" height="18" rx="2" stroke="#000" stroke-width="2.5" fill="#fff" />
<rect x="1387.8" y="699.7" width="55.4" height="8" rx="2" stroke="#000" stroke-width="2.5" fill="#fff" />
<line x1="1390.8" y1="704.7" x2="1440.2" y2="704.7" stroke="#000" stroke-width="1.5" />
<rect x="1385.5" y="708.4" width="60" height="17.6" rx="6" fill="#000"/>
<line x1="1384" y1="710.9" x2="1386.5" y2="710.9" stroke="#fff" stroke-width="1"  shape-rendering="crispEdges"/>
<line x1="1444.5" y1="710.9" x2="1447" y2="710.9" stroke="#fff" stroke-width="1"  shape-rendering="crispEdges"/>
<line x1="1384" y1="713.4" x2="1386.5" y2="713.4" stroke="#fff" stroke-width="1"  shape-rendering="crispEdges"/>
<line x1="1444.5" y1="713.4" x2="1447" y2="713.4" stroke="#fff" stroke-width="1"  shape-rendering="crispEdges"/>
<line x1="1384" y1="715.9" x2="1386.5" y2="715.9" stroke="#fff" stroke-width="1"  shape-rendering="crispEdges"/>
<line x1="1444.5" y1="715.9" x2="1447" y2="715.9" stroke="#fff" stroke-width="1"  shape-rendering="crispEdges"/>
<line x1="1384" y1="718.5" x2="1386.5" y2="718.5" stroke="#fff" stroke-width="1"  shape-rendering="crispEdges"/>
<line x1="1444.5" y1="718.5" x2="1447" y2="718.5" stroke="#fff" stroke-width="1"  shape-rendering="crispEdges"/>
<line x1="1384" y1="721" x2="1386.5" y2="721" stroke="#fff" stroke-width="1"  shape-rendering="crispEdges"/>
<line x1="1444.5" y1="721" x2="1447" y2="721" stroke="#fff" stroke-width="1"  shape-rendering="crispEdges"/>
<line x1="1384" y1="723.5" x2="1386.5" y2="723.5" stroke="#fff" stroke-width="1"  shape-rendering="crispEdges"/>
<line x1="1444.5" y1="723.5" x2="1447" y2="723.5" stroke="#fff" stroke-width="1"  shape-rendering="crispEdges"/>
<rect x="1390.5" y="726" width="50" height="13" rx="0" stroke="#000" stroke-width="3" fill="#fff" />
<rect x="1385.5" y="739" width="60" height="16.7" rx="0" fill="#000"/>
<rect x="1389.5" y="743" width="52" height="3.5" rx="0" fill="#fff"/>
<rect x="1389.5" y="749" width="52" height="2.5" rx="0" fill="#fff"/>
<rect x="1374.5" y="755.7" width="82" height="14.7" rx="3" fill="#000"/>
<path d="M1377.5 763.1 L1380.5 758.2 Q1384.5 756.7 1388.5 758.2 L1391.5 763.1 L1388.5 767.9 Q1384.5 769.4 1380.5 767.9 Z" stroke="#000" stroke-width="0" fill="#fff" stroke-linejoin="round" />
<path d="M1398.5 763.1 L1401.5 758.2 Q1414.5 756.7 1427.5 758.2 L1430.5 763.1 L1427.5 767.9 Q1414.5 769.4 1401.5 767.9 Z" stroke="#000" stroke-width="0" fill="#fff" stroke-linejoin="round" />
<path d="M1438.5 763.1 L1441.5 758.2 Q1446 756.7 1450.5 758.2 L1453.5 763.1 L1450.5 767.9 Q1446 769.4 1441.5 767.9 Z" stroke="#000" stroke-width="0" fill="#fff" stroke-linejoin="round" />
<line x1="1415.5" y1="697.7" x2="1415.5" y2="770.7" stroke="#999" stroke-width="1"  shape-rendering="crispEdges"/>
<rect x="1546.6" y="699.7" width="55.4" height="8" rx="2" stroke="#000" stroke-width="2.5" fill="#fff" />
<line x1="1549.6" y1="704.7" x2="1599" y2="704.7" stroke="#000" stroke-width="1.5" />
<rect x="1544.3" y="708.4" width="60" height="17.6" rx="6" fill="#000"/>
<line x1="1542.8" y1="710.9" x2="1545.3" y2="710.9" stroke="#fff" stroke-width="1"  shape-rendering="crispEdges"/>
<line x1="1603.3" y1="710.9" x2="1605.8" y2="710.9" stroke="#fff" stroke-width="1"  shape-rendering="crispEdges"/>
<line x1="1542.8" y1="713.4" x2="1545.3" y2="713.4" stroke="#fff" stroke-width="1"  shape-rendering="crispEdges"/>
<line x1="1603.3" y1="713.4" x2="1605.8" y2="713.4" stroke="#fff" stroke-width="1"  shape-rendering="crispEdges"/>
<line x1="1542.8" y1="715.9" x2="1545.3" y2="715.9" stroke="#fff" stroke-width="1"  shape-rendering="crispEdges"/>
<line x1="1603.3" y1="715.9" x2="1605.8" y2="715.9" stroke="#fff" stroke-width="1"  shape-rendering="crispEdges"/>
<line x1="1542.8" y1="718.5" x2="1545.3" y2="718.5" stroke="#fff" stroke-width="1"  shape-rendering="crispEdges"/>
<line x1="1603.3" y1="718.5" x2="1605.8" y2="718.5" stroke="#fff" stroke-width="1"  shape-rendering="crispEdges"/>
<line x1="1542.8" y1="721" x2="1545.3" y2="721" stroke="#fff" stroke-width="1"  shape-rendering="crispEdges"/>
<line x1="1603.3" y1="721" x2="1605.8" y2="721" stroke="#fff" stroke-width="1"  shape-rendering="crispEdges"/>
<line x1="1542.8" y1="723.5" x2="1545.3" y2="723.5" stroke="#fff" stroke-width="1"  shape-rendering="crispEdges"/>
<line x1="1603.3" y1="723.5" x2="1605.8" y2="723.5" stroke="#fff" stroke-width="1"  shape-rendering="crispEdges"/>
<rect x="1549.3" y="726" width="50" height="13" rx="0" stroke="#000" stroke-width="3" fill="#fff" />
<rect x="1544.3" y="739" width="60" height="16.7" rx="0" fill="#000"/>
<rect x="1548.3" y="743" width="52" height="3.5" rx="0" fill="#fff"/>
<rect x="1548.3" y="749" width="52" height="2.5" rx="0" fill="#fff"/>
<rect x="1533.3" y="755.7" width="82" height="14.7" rx="3" fill="#000"/>
<path d="M1536.3 763.1 L1539.3 758.2 Q1543.3 756.7 1547.3 758.2 L1550.3 763.1 L1547.3 767.9 Q1543.3 769.4 1539.3 767.9 Z" stroke="#000" stroke-width="0" fill="#fff" stroke-linejoin="round" />
<path d="M1557.3 763.1 L1560.3 758.2 Q1573.3 756.7 1586.3 758.2 L1589.3 763.1 L1586.3 767.9 Q1573.3 769.4 1560.3 767.9 Z" stroke="#000" stroke-width="0" fill="#fff" stroke-linejoin="round" />
<path d="M1597.3 763.1 L1600.3 758.2 Q1604.8 756.7 1609.3 758.2 L1612.3 763.1 L1609.3 767.9 Q1604.8 769.4 1600.3 767.9 Z" stroke="#000" stroke-width="0" fill="#fff" stroke-linejoin="round" />
<line x1="1574.3" y1="697.7" x2="1574.3" y2="770.7" stroke="#999" stroke-width="1"  shape-rendering="crispEdges"/>
<rect x="1387.8" y="1495" width="55.4" height="8" rx="2" stroke="#000" stroke-width="2.5" fill="#fff" />
<line x1="1390.8" y1="1498" x2="1440.2" y2="1498" stroke="#000" stroke-width="1.5" />
<rect x="1385.5" y="1476.7" width="60" height="17.6" rx="6" fill="#000"/>
<line x1="1384" y1="1479.2" x2="1386.5" y2="1479.2" stroke="#fff" stroke-width="1"  shape-rendering="crispEdges"/>
<line x1="1444.5" y1="1479.2" x2="1447" y2="1479.2" stroke="#fff" stroke-width="1"  shape-rendering="crispEdges"/>
<line x1="1384" y1="1481.7" x2="1386.5" y2="1481.7" stroke="#fff" stroke-width="1"  shape-rendering="crispEdges"/>
<line x1="1444.5" y1="1481.7" x2="1447" y2="1481.7" stroke="#fff" stroke-width="1"  shape-rendering="crispEdges"/>
<line x1="1384" y1="1484.2" x2="1386.5" y2="1484.2" stroke="#fff" stroke-width="1"  shape-rendering="crispEdges"/>
<line x1="1444.5" y1="1484.2" x2="1447" y2="1484.2" stroke="#fff" stroke-width="1"  shape-rendering="crispEdges"/>
<line x1="1384" y1="1486.8" x2="1386.5" y2="1486.8" stroke="#fff" stroke-width="1"  shape-rendering="crispEdges"/>
<line x1="1444.5" y1="1486.8" x2="1447" y2="1486.8" stroke="#fff" stroke-width="1"  shape-rendering="crispEdges"/>
<line x1="1384" y1="1489.3" x2="1386.5" y2="1489.3" stroke="#fff" stroke-width="1"  shape-rendering="crispEdges"/>
<line x1="1444.5" y1="1489.3" x2="1447" y2="1489.3" stroke="#fff" stroke-width="1"  shape-rendering="crispEdges"/>
<line x1="1384" y1="1491.8" x2="1386.5" y2="1491.8" stroke="#fff" stroke-width="1"  shape-rendering="crispEdges"/>
<line x1="1444.5" y1="1491.8" x2="1447" y2="1491.8" stroke="#fff" stroke-width="1"  shape-rendering="crispEdges"/>
<rect x="1390.5" y="1463.7" width="50" height="13" rx="0" stroke="#000" stroke-width="3" fill="#fff" />
<rect x="1385.5" y="1447" width="60" height="16.7" rx="0" fill="#000"/>
<rect x="1389.5" y="1451" width="52" height="3.5" rx="0" fill="#fff"/>
<rect x="1389.5" y="1457" width="52" height="2.5" rx="0" fill="#fff"/>
<rect x="1374.5" y="1432.3" width="82" height="14.7" rx="3" fill="#000"/>
<path d="M1384.5 1439.7 L1387.5 1434.8 Q1398 1433.3 1408.5 1434.8 L1411.5 1439.7 L1408.5 1444.5 Q1398 1446 1387.5 1444.5 Z" stroke="#000" stroke-width="0" fill="#fff" stroke-linejoin="round" />
<path d="M1419.5 1439.7 L1422.5 1434.8 Q1433 1433.3 1443.5 1434.8 L1446.5 1439.7 L1443.5 1444.5 Q1433 1446 1422.5 1444.5 Z" stroke="#000" stroke-width="0" fill="#fff" stroke-linejoin="round" />
<line x1="1415.5" y1="1505" x2="1415.5" y2="1432" stroke="#999" stroke-width="1"  shape-rendering="crispEdges"/>
<rect x="1546.6" y="1495" width="55.4" height="8" rx="2" stroke="#000" stroke-width="2.5" fill="#fff" />
<line x1="1549.6" y1="1498" x2="1599" y2="1498" stroke="#000" stroke-width="1.5" />
<rect x="1544.3" y="1476.7" width="60" height="17.6" rx="6" fill="#000"/>
<line x1="1542.8" y1="1479.2" x2="1545.3" y2="1479.2" stroke="#fff" stroke-width="1"  shape-rendering="crispEdges"/>
<line x1="1603.3" y1="1479.2" x2="1605.8" y2="1479.2" stroke="#fff" stroke-width="1"  shape-rendering="crispEdges"/>
<line x1="1542.8" y1="1481.7" x2="1545.3" y2="1481.7" stroke="#fff" stroke-width="1"  shape-rendering="crispEdges"/>
<line x1="1603.3" y1="1481.7" x2="1605.8" y2="1481.7" stroke="#fff" stroke-width="1"  shape-rendering="crispEdges"/>
<line x1="1542.8" y1="1484.2" x2="1545.3" y2="1484.2" stroke="#fff" stroke-width="1"  shape-rendering="crispEdges"/>
<line x1="1603.3" y1="1484.2" x2="1605.8" y2="1484.2" stroke="#fff" stroke-width="1"  shape-rendering="crispEdges"/>
<line x1="1542.8" y1="1486.8" x2="1545.3" y2="1486.8" stroke="#fff" stroke-width="1"  shape-rendering="crispEdges"/>
<line x1="1603.3" y1="1486.8" x2="1605.8" y2="1486.8" stroke="#fff" stroke-width="1"  shape-rendering="crispEdges"/>
<line x1="1542.8" y1="1489.3" x2="1545.3" y2="1489.3" stroke="#fff" stroke-width="1"  shape-rendering="crispEdges"/>
<line x1="1603.3" y1="1489.3" x2="1605.8" y2="1489.3" stroke="#fff" stroke-width="1"  shape-rendering="crispEdges"/>
<line x1="1542.8" y1="1491.8" x2="1545.3" y2="1491.8" stroke="#fff" stroke-width="1"  shape-rendering="crispEdges"/>
<line x1="1603.3" y1="1491.8" x2="1605.8" y2="1491.8" stroke="#fff" stroke-width="1"  shape-rendering="crispEdges"/>
<rect x="1549.3" y="1463.7" width="50" height="13" rx="0" stroke="#000" stroke-width="3" fill="#fff" />
<rect x="1544.3" y="1447" width="60" height="16.7" rx="0" fill="#000"/>
<rect x="1548.3" y="1451" width="52" height="3.5" rx="0" fill="#fff"/>
<rect x="1548.3" y="1457" width="52" height="2.5" rx="0" fill="#fff"/>
<rect x="1533.3" y="1432.3" width="82" height="14.7" rx="3" fill="#000"/>
<path d="M1543.3 1439.7 L1546.3 1434.8 Q1556.8 1433.3 1567.3 1434.8 L1570.3 1439.7 L1567.3 1444.5 Q1556.8 1446 1546.3 1444.5 Z" stroke="#000" stroke-width="0" fill="#fff" stroke-linejoin="round" />
<path d="M1578.3 1439.7 L1581.3 1434.8 Q1591.8 1433.3 1602.3 1434.8 L1605.3 1439.7 L1602.3 1444.5 Q1591.8 1446 1581.3 1444.5 Z" stroke="#000" stroke-width="0" fill="#fff" stroke-linejoin="round" />
<line x1="1574.3" y1="1505" x2="1574.3" y2="1432" stroke="#999" stroke-width="1"  shape-rendering="crispEdges"/>
<rect x="1355.5" y="763.8" width="15.8" height="8.7" rx="2" stroke="#000" stroke-width="2.5" fill="#fff" />
<rect x="1472" y="763.8" width="45" height="8.7" rx="2" stroke="#000" stroke-width="2.5" fill="#fff" />
<rect x="1405" y="782.5" width="51" height="7" rx="2" fill="#000"/>
<rect x="1563" y="782.5" width="51" height="7" rx="2" fill="#000"/>
<rect x="1355.5" y="1430.5" width="15.8" height="8.5" rx="2" stroke="#000" stroke-width="2.5" fill="#fff" />
<rect x="1472" y="1430.5" width="45" height="8.5" rx="2" stroke="#000" stroke-width="2.5" fill="#fff" />
<path d="M1366.5 1395 L1366.5 822 Q1366.5 814 1371.5 812 L1371.5 795 Q1371.5 791.5 1376 791.5 L1489 791.5" stroke="#000" stroke-width="3" fill="none" stroke-linejoin="round" />
<path d="M1366.5 1395 Q1366.5 1408 1378 1408 L1489 1408" stroke="#000" stroke-width="3" fill="none" stroke-linejoin="round" />
<line x1="1375.5" y1="795" x2="1375.5" y2="1405" stroke="#000" stroke-width="2.5" />
<line x1="1378.5" y1="800" x2="1378.5" y2="1400" stroke="#888" stroke-width="1"  shape-rendering="crispEdges"/>
<line x1="1375" y1="811" x2="1505" y2="811" stroke="#999" stroke-width="1"  shape-rendering="crispEdges"/>
<path d="M1376 848.7 L1466 848.7 Q1481 848.7 1481 864 L1481 1400" stroke="#000" stroke-width="2.5" fill="none" stroke-linejoin="round" />
<path d="M1380 852 L1465 852 Q1477 852 1477 865 L1477 1398" stroke="#888" stroke-width="1" fill="none" stroke-linejoin="round" />
<path d="M1376 1288 L1414 1288 A53 53 0 0 1 1436.4 1389 L1436.4 1398" stroke="#000" stroke-width="2.5" fill="#fff" stroke-linejoin="round" />
<path d="M1380 1291.5 L1414 1291.5 A49.5 49.5 0 0 1 1433 1386" stroke="#888" stroke-width="1" fill="none" stroke-linejoin="round" />
<path d="M1370.4 1332.6 A44 44 0 0 1 1406.1 1296.9 A4.5 4.5 0 0 1 1407.6 1305.7 A35 35 0 0 0 1379.2 1334.1 A4.5 4.5 0 0 1 1370.4 1332.6 Z" stroke="#000" stroke-width="3" fill="none" stroke-linejoin="round" />
<path d="M1421.3 1296.9 A44 44 0 0 1 1457 1332.6 A4.5 4.5 0 0 1 1448.2 1334.1 A35 35 0 0 0 1419.8 1305.7 A4.5 4.5 0 0 1 1421.3 1296.9 Z" stroke="#000" stroke-width="3" fill="none" stroke-linejoin="round" />
<path d="M1457 1347.8 A44 44 0 0 1 1421.3 1383.5 A4.5 4.5 0 0 1 1419.8 1374.7 A35 35 0 0 0 1448.2 1346.3 A4.5 4.5 0 0 1 1457 1347.8 Z" stroke="#000" stroke-width="3" fill="none" stroke-linejoin="round" />
<path d="M1406.1 1383.5 A44 44 0 0 1 1370.4 1347.8 A4.5 4.5 0 0 1 1379.2 1346.3 A35 35 0 0 0 1407.6 1374.7 A4.5 4.5 0 0 1 1406.1 1383.5 Z" stroke="#000" stroke-width="3" fill="none" stroke-linejoin="round" />
<polygon points="1436.7,1340.2 1425.2,1360.1 1402.2,1360.1 1390.7,1340.2 1402.2,1320.3 1425.2,1320.3" stroke="#000" stroke-width="4.5" fill="#fff" stroke-linejoin="round" />
<circle cx="1413.7" cy="1340.2" r="17" stroke="#888" stroke-width="1.2" fill="none"/>
<circle cx="1414.7" cy="1338.2" r="4.5" fill="#000"/>
<rect x="1489" y="791.5" width="11" height="625" rx="0" fill="#000"/>
<line x1="1502" y1="800" x2="1502" y2="1416" stroke="#555" stroke-width="1"  shape-rendering="crispEdges"/>
<path d="M1507 1411 L1507 803 Q1507 800 1511 800 L1614 800 L1614 814 Q1622 814 1622 822 L1622 1392 Q1622 1404 1614 1404 L1614 1411 Z" stroke="#000" stroke-width="3" fill="none" stroke-linejoin="round" />
<line x1="1511" y1="805" x2="1511" y2="1408" stroke="#000" stroke-width="2.5" />
<line x1="1514" y1="807" x2="1514" y2="1405" stroke="#888" stroke-width="1"  shape-rendering="crispEdges"/>
<line x1="1612" y1="805" x2="1612" y2="1408" stroke="#000" stroke-width="2.5" />
<line x1="1609" y1="807" x2="1609" y2="1405" stroke="#888" stroke-width="1"  shape-rendering="crispEdges"/>
<path d="M1511 815 L1610 815" stroke="#888" stroke-width="1" fill="none" stroke-linejoin="round" />
<path d="M1511 826 L1612 826" stroke="#666" stroke-width="1" fill="none" stroke-linejoin="round" />
<path d="M1509 1230 L1509 1340 Q1509 1355 1524 1355 L1612 1355" stroke="#000" stroke-width="2.5" fill="none" stroke-linejoin="round" />
<path d="M1513 1230 L1513 1338 Q1513 1351 1526 1351 L1610 1351" stroke="#888" stroke-width="1" fill="none" stroke-linejoin="round" />
<line x1="1502" y1="1395" x2="1612" y2="1395" stroke="#888" stroke-width="1"  shape-rendering="crispEdges"/>
<rect x="1377" y="1408" width="110" height="13" rx="0" stroke="#000" stroke-width="2" fill="#fff" />
<rect x="1517" y="1411" width="97" height="10" rx="0" stroke="#000" stroke-width="2" fill="#fff" />
<rect x="1560" y="1413" width="40" height="6" rx="0" fill="#000"/>
<line x1="1450" y1="700" x2="1725" y2="700" stroke="#7d7d7d" stroke-width="1"  shape-rendering="crispEdges"/>
<line x1="1450" y1="1502.5" x2="1725" y2="1502.5" stroke="#7d7d7d" stroke-width="1"  shape-rendering="crispEdges"/>
<line x1="1716" y1="700" x2="1716" y2="1502.5" stroke="#7d7d7d" stroke-width="1"  shape-rendering="crispEdges"/>
<polygon points="1716,700 1722.5,740 1709.5,740" stroke="#7d7d7d" stroke-width="0.5" fill="#7d7d7d" stroke-linejoin="round" />
<polygon points="1716,1502.5 1709.5,1462.5 1722.5,1462.5" stroke="#7d7d7d" stroke-width="0.5" fill="#7d7d7d" stroke-linejoin="round" />
<text x="1712.5" y="1102" font-family="Liberation Sans" font-size="27.5" font-weight="normal" fill="#707070" text-anchor="middle" transform="rotate(-90 1712.5 1102)" >277.9</text>
<line x1="1625" y1="782.5" x2="1672" y2="782.5" stroke="#7d7d7d" stroke-width="1"  shape-rendering="crispEdges"/>
<line x1="1625" y1="1421.5" x2="1672" y2="1421.5" stroke="#7d7d7d" stroke-width="1"  shape-rendering="crispEdges"/>
<line x1="1664" y1="782.5" x2="1664" y2="1421.5" stroke="#7d7d7d" stroke-width="1"  shape-rendering="crispEdges"/>
<polygon points="1664,782.5 1670.5,822.5 1657.5,822.5" stroke="#7d7d7d" stroke-width="0.5" fill="#7d7d7d" stroke-linejoin="round" />
<polygon points="1664,1421.5 1657.5,1381.5 1670.5,1381.5" stroke="#7d7d7d" stroke-width="0.5" fill="#7d7d7d" stroke-linejoin="round" />
<text x="1659.5" y="1102" font-family="Liberation Sans" font-size="27.5" font-weight="normal" fill="#707070" text-anchor="middle" transform="rotate(-90 1659.5 1102)" >221.4</text>
<line x1="1331.5" y1="1607" x2="1331.5" y2="1695" stroke="#7d7d7d" stroke-width="1"  shape-rendering="crispEdges"/>
<line x1="1366.5" y1="1420" x2="1366.5" y2="1642" stroke="#7d7d7d" stroke-width="1"  shape-rendering="crispEdges"/>
<line x1="1621.5" y1="1505" x2="1621.5" y2="1695" stroke="#7d7d7d" stroke-width="1"  shape-rendering="crispEdges"/>
<line x1="1210" y1="1633.5" x2="1331.5" y2="1633.5" stroke="#7d7d7d" stroke-width="1"  shape-rendering="crispEdges"/>
<polygon points="1331.5,1633.5 1291.5,1640 1291.5,1627" stroke="#7d7d7d" stroke-width="0.5" fill="#7d7d7d" stroke-linejoin="round" />
<text x="1248.5" y="1626.5" font-family="Liberation Sans" font-size="27.5" font-weight="normal" fill="#707070" text-anchor="middle" >12.5</text>
<line x1="1366.5" y1="1633.5" x2="1621.5" y2="1633.5" stroke="#7d7d7d" stroke-width="1"  shape-rendering="crispEdges"/>
<polygon points="1366.5,1633.5 1406.5,1627 1406.5,1640" stroke="#7d7d7d" stroke-width="0.5" fill="#7d7d7d" stroke-linejoin="round" />
<polygon points="1621.5,1633.5 1581.5,1640 1581.5,1627" stroke="#7d7d7d" stroke-width="0.5" fill="#7d7d7d" stroke-linejoin="round" />
<text x="1497.5" y="1625" font-family="Liberation Sans" font-size="33" font-weight="bold" fill="#707070" text-anchor="middle" font-style="italic" >88</text>
<line x1="1331.5" y1="1686" x2="1621.5" y2="1686" stroke="#7d7d7d" stroke-width="1"  shape-rendering="crispEdges"/>
<polygon points="1331.5,1686 1371.5,1679.5 1371.5,1692.5" stroke="#7d7d7d" stroke-width="0.5" fill="#7d7d7d" stroke-linejoin="round" />
<polygon points="1621.5,1686 1581.5,1692.5 1581.5,1679.5" stroke="#7d7d7d" stroke-width="0.5" fill="#7d7d7d" stroke-linejoin="round" />
<text x="1477.5" y="1680" font-family="Liberation Sans" font-size="27.5" font-weight="normal" fill="#707070" text-anchor="middle" >100.5</text>
<text x="1170" y="1360" font-family="Liberation Sans" font-size="35" font-weight="bold" fill="#000" text-anchor="start" >DELRIN</text>
<text x="1170" y="1402.5" font-family="Liberation Sans" font-size="35" font-weight="bold" fill="#000" text-anchor="start" >CAP</text>
<line x1="1170" y1="1411" x2="1317" y2="1411" stroke="#000" stroke-width="1.5" />
<line x1="1317" y1="1411" x2="1414" y2="1340" stroke="#000" stroke-width="1.5" />
<text x="1446" y="1562.5" font-family="Liberation Sans" font-size="35" font-weight="bold" fill="#000" text-anchor="start" >GND M5</text>
<line x1="1437" y1="1571.5" x2="1579" y2="1571.5" stroke="#000" stroke-width="1.5" />
<line x1="1437" y1="1571.5" x2="1405" y2="1540" stroke="#000" stroke-width="1.5" />
<polygon points="1390,1528.5 1417.9,1545.6 1408.3,1555.7" stroke="#000" stroke-width="0.5" fill="#000" stroke-linejoin="round" />
<text x="892.5" y="1735" font-family="Liberation Sans" font-size="35.1" font-weight="bold" fill="#000" text-anchor="start" >bend clamp</text>
<line x1="892" y1="1742.5" x2="1094" y2="1742.5" stroke="#000" stroke-width="1.5" />
<line x1="1094" y1="1742.5" x2="1135" y2="1585" stroke="#000" stroke-width="1.5" />
<polygon points="1140,1560 1140.5,1592.8 1126.7,1590" stroke="#000" stroke-width="0.5" fill="#000" stroke-linejoin="round" />
<path d="M143 2009 L143 2129" stroke="#000" stroke-width="3" fill="none" stroke-linejoin="round" />
<path d="M143 2141 L143 2256 Q143 2262 149 2262 L277 2262" stroke="#000" stroke-width="3" fill="none" stroke-linejoin="round" />
<path d="M717 2262 L845 2262 Q851 2262 851 2256 L851 2141" stroke="#000" stroke-width="3" fill="none" stroke-linejoin="round" />
<path d="M851 2129 L851 2018 Q851 2016 848 2016 L829 2016 L829 2012" stroke="#000" stroke-width="3" fill="none" stroke-linejoin="round" />
<line x1="143" y1="2009" x2="277" y2="2009" stroke="#000" stroke-width="3" />
<line x1="143" y1="2262" x2="851" y2="2262" stroke="#000" stroke-width="3" />
<line x1="150" y1="2257" x2="846" y2="2257" stroke="#888" stroke-width="1"  shape-rendering="crispEdges"/>
<line x1="717" y1="2011.6" x2="829" y2="2011.6" stroke="#000" stroke-width="3" />
<line x1="146" y1="2015" x2="277" y2="2015" stroke="#888" stroke-width="1"  shape-rendering="crispEdges"/>
<line x1="146" y1="2258" x2="277" y2="2258" stroke="#888" stroke-width="1"  shape-rendering="crispEdges"/>
<line x1="717" y1="2257" x2="846" y2="2257" stroke="#888" stroke-width="1"  shape-rendering="crispEdges"/>
<rect x="143" y="2130" width="134" height="10.5" rx="0" fill="#000"/>
<rect x="717" y="2130" width="134" height="10.5" rx="0" fill="#000"/>
<line x1="143" y1="2143" x2="277" y2="2143" stroke="#000" stroke-width="1.5" />
<line x1="717" y1="2143" x2="851" y2="2143" stroke="#000" stroke-width="1.5" />
<path d="M200.3 2015 L200.3 2103 Q200.3 2119 216 2119 L277 2119" stroke="#000" stroke-width="2.5" fill="none" stroke-linejoin="round" />
<path d="M204 2015 L204 2102 Q204 2115 217 2115 L277 2115" stroke="#888" stroke-width="1" fill="none" stroke-linejoin="round" />
<line x1="163" y1="2009" x2="163" y2="2262" stroke="#999" stroke-width="1"  shape-rendering="crispEdges"/>
<path d="M150 2150 L150 2255" stroke="#888" stroke-width="1" fill="none" stroke-linejoin="round" />
<path d="M156 2150 L156 2250 L165 2250" stroke="#000" stroke-width="2" fill="none" stroke-linejoin="round" />
<line x1="717" y1="2118" x2="846" y2="2118" stroke="#000" stroke-width="2" />
<path d="M717 2150.4 L779 2150.4 Q794 2150.4 794 2165 L794 2250.5" stroke="#000" stroke-width="2.5" fill="none" stroke-linejoin="round" />
<path d="M717 2154 L778 2154 Q790 2154 790 2166 L790 2250" stroke="#888" stroke-width="1" fill="none" stroke-linejoin="round" />
<line x1="831" y1="2012" x2="831" y2="2262" stroke="#999" stroke-width="1"  shape-rendering="crispEdges"/>
<line x1="840" y1="2020" x2="840" y2="2125" stroke="#000" stroke-width="1.5" />
<rect x="837.4" y="2067" width="6" height="21.7" rx="0" fill="#000"/>
<path d="M277 1972 L717 1972 L717 2239 A21 15 0 0 1 675 2239 L675 2170 Q675 2157 662 2157 L333 2157 Q320 2157 320 2170 L320 2239 A21 15 0 0 1 277 2239 Z" stroke="#000" stroke-width="3.5" fill="#fff" stroke-linejoin="round" />
<rect x="320" y="2010.6" width="355" height="103.4" rx="13" stroke="#000" stroke-width="3.5" fill="#fff" />
<path d="M320 2236 Q320 2251 335 2251 L660 2251 Q675 2251 675 2236" stroke="#000" stroke-width="3" fill="none" stroke-linejoin="round" />
<line x1="277" y1="2254" x2="717" y2="2254" stroke="#000" stroke-width="3" />
<line x1="277" y1="1978.5" x2="717" y2="1978.5" stroke="#000" stroke-width="2.5" />
<path d="M455 1979 L455 1993 Q455 1997 460 1997 L535 1997 Q540 1997 540 1993 L540 1979" stroke="#000" stroke-width="3" fill="none" stroke-linejoin="round" />
<path d="M466 1973 L482 1983 L510 1983 L526 1973" stroke="#000" stroke-width="2" fill="none" stroke-linejoin="round" />
<path d="M308 1981 Q308 1996 317 1999 L337 1999 Q346 1996 346 1981" stroke="#999" stroke-width="1.2" fill="none" stroke-linejoin="round" />
<path d="M318 1981 L318 1993 L336 1993 L336 1981" stroke="#999" stroke-width="1" fill="none" stroke-linejoin="round" />
<path d="M394 1981 Q394 1996 403 1999 L423 1999 Q432 1996 432 1981" stroke="#999" stroke-width="1.2" fill="none" stroke-linejoin="round" />
<path d="M404 1981 L404 1993 L422 1993 L422 1981" stroke="#999" stroke-width="1" fill="none" stroke-linejoin="round" />
<path d="M561 1981 Q561 1996 570 1999 L590 1999 Q599 1996 599 1981" stroke="#999" stroke-width="1.2" fill="none" stroke-linejoin="round" />
<path d="M571 1981 L571 1993 L589 1993 L589 1981" stroke="#999" stroke-width="1" fill="none" stroke-linejoin="round" />
<path d="M648 1981 Q648 1996 657 1999 L677 1999 Q686 1996 686 1981" stroke="#999" stroke-width="1.2" fill="none" stroke-linejoin="round" />
<path d="M658 1981 L658 1993 L676 1993 L676 1981" stroke="#999" stroke-width="1" fill="none" stroke-linejoin="round" />
<line x1="465" y1="1980" x2="465" y2="2010" stroke="#999" stroke-width="1"  shape-rendering="crispEdges"/>
<line x1="465" y1="2114" x2="465" y2="2157" stroke="#999" stroke-width="1"  shape-rendering="crispEdges"/>
<line x1="470" y1="1980" x2="470" y2="2010" stroke="#999" stroke-width="1"  shape-rendering="crispEdges"/>
<line x1="470" y1="2114" x2="470" y2="2157" stroke="#999" stroke-width="1"  shape-rendering="crispEdges"/>
<line x1="488" y1="1980" x2="488" y2="2010" stroke="#999" stroke-width="1"  shape-rendering="crispEdges"/>
<line x1="488" y1="2114" x2="488" y2="2157" stroke="#999" stroke-width="1"  shape-rendering="crispEdges"/>
<line x1="494" y1="1980" x2="494" y2="2010" stroke="#999" stroke-width="1"  shape-rendering="crispEdges"/>
<line x1="494" y1="2114" x2="494" y2="2157" stroke="#999" stroke-width="1"  shape-rendering="crispEdges"/>
<line x1="500" y1="1980" x2="500" y2="2010" stroke="#999" stroke-width="1"  shape-rendering="crispEdges"/>
<line x1="500" y1="2114" x2="500" y2="2157" stroke="#999" stroke-width="1"  shape-rendering="crispEdges"/>
<line x1="507" y1="1980" x2="507" y2="2010" stroke="#999" stroke-width="1"  shape-rendering="crispEdges"/>
<line x1="507" y1="2114" x2="507" y2="2157" stroke="#999" stroke-width="1"  shape-rendering="crispEdges"/>
<line x1="527" y1="1980" x2="527" y2="2010" stroke="#999" stroke-width="1"  shape-rendering="crispEdges"/>
<line x1="527" y1="2114" x2="527" y2="2157" stroke="#999" stroke-width="1"  shape-rendering="crispEdges"/>
<line x1="532" y1="1980" x2="532" y2="2010" stroke="#999" stroke-width="1"  shape-rendering="crispEdges"/>
<line x1="532" y1="2114" x2="532" y2="2157" stroke="#999" stroke-width="1"  shape-rendering="crispEdges"/>
<circle cx="298.4" cy="2031.5" r="15" stroke="#000" stroke-width="4" fill="none"/>
<circle cx="298.4" cy="2031.5" r="10" stroke="#777" stroke-width="1" fill="none"/>
<circle cx="298.4" cy="2031.5" r="6" stroke="#000" stroke-width="3.5" fill="none"/>
<circle cx="298.4" cy="2031.5" r="3" fill="#fff"/>
<circle cx="694" cy="2031.5" r="15" stroke="#000" stroke-width="4" fill="none"/>
<circle cx="694" cy="2031.5" r="10" stroke="#777" stroke-width="1" fill="none"/>
<circle cx="694" cy="2031.5" r="6" stroke="#000" stroke-width="3.5" fill="none"/>
<circle cx="694" cy="2031.5" r="3" fill="#fff"/>
<circle cx="298.4" cy="2238.7" r="15" stroke="#000" stroke-width="4" fill="none"/>
<circle cx="298.4" cy="2238.7" r="10" stroke="#777" stroke-width="1" fill="none"/>
<circle cx="298.4" cy="2238.7" r="6" stroke="#000" stroke-width="3.5" fill="none"/>
<circle cx="298.4" cy="2238.7" r="3" fill="#fff"/>
<circle cx="694" cy="2238.7" r="15" stroke="#000" stroke-width="4" fill="none"/>
<circle cx="694" cy="2238.7" r="10" stroke="#777" stroke-width="1" fill="none"/>
<circle cx="694" cy="2238.7" r="6" stroke="#000" stroke-width="3.5" fill="none"/>
<circle cx="694" cy="2238.7" r="3" fill="#fff"/>
<circle cx="298.4" cy="2135" r="10" fill="#000"/>
<circle cx="298.4" cy="2135" r="6" stroke="#555" stroke-width="1" fill="none"/>
<circle cx="694" cy="2135" r="10" fill="#000"/>
<circle cx="694" cy="2135" r="6" stroke="#555" stroke-width="1" fill="none"/>
<line x1="400" y1="2055.7" x2="452" y2="2055.7" stroke="#000" stroke-width="1" stroke-dasharray="12 10" shape-rendering="crispEdges"/>
<line x1="540" y1="2214" x2="580" y2="2214" stroke="#000" stroke-width="1" stroke-dasharray="12 10" shape-rendering="crispEdges"/>
<circle cx="368" cy="2055.7" r="37" stroke="#000" stroke-width="6" fill="#fff"/>
<circle cx="403.1" cy="2070.2" r="3.2" fill="#000"/>
<circle cx="382.5" cy="2090.8" r="3.2" fill="#000"/>
<circle cx="353.5" cy="2090.8" r="3.2" fill="#000"/>
<circle cx="332.9" cy="2070.2" r="3.2" fill="#000"/>
<circle cx="332.9" cy="2041.2" r="3.2" fill="#000"/>
<circle cx="353.5" cy="2020.6" r="3.2" fill="#000"/>
<circle cx="382.5" cy="2020.6" r="3.2" fill="#000"/>
<circle cx="403.1" cy="2041.2" r="3.2" fill="#000"/>
<circle cx="368" cy="2055.7" r="29" stroke="#000" stroke-width="3.2" fill="none"/>
<circle cx="368" cy="2055.7" r="21" stroke="#1a1a1a" stroke-width="13" fill="none"/>
<circle cx="368" cy="2055.7" r="24.5" stroke="#888" stroke-width="1" fill="none"/>
<circle cx="368" cy="2055.7" r="19.7" stroke="#fff" stroke-width="1" fill="none"/>
<circle cx="368" cy="2055.7" r="16.5" stroke="#888" stroke-width="1" fill="none"/>
<circle cx="368" cy="2055.7" r="7.5" fill="#111"/>
<circle cx="368" cy="2055.7" r="5" stroke="#888" stroke-width="1" fill="none"/>
<line x1="325" y1="2055.7" x2="411" y2="2055.7" stroke="#555" stroke-width="1"  shape-rendering="crispEdges"/>
<line x1="368" y1="2012.7" x2="368" y2="2098.7" stroke="#555" stroke-width="1"  shape-rendering="crispEdges"/>
<line x1="336" y1="2055.7" x2="340" y2="2055.7" stroke="#fff" stroke-width="1"  shape-rendering="crispEdges"/>
<line x1="396" y1="2055.7" x2="400" y2="2055.7" stroke="#fff" stroke-width="1"  shape-rendering="crispEdges"/>
<line x1="368" y1="2023.7" x2="368" y2="2027.7" stroke="#fff" stroke-width="1"  shape-rendering="crispEdges"/>
<line x1="368" y1="2083.7" x2="368" y2="2087.7" stroke="#fff" stroke-width="1"  shape-rendering="crispEdges"/>
<circle cx="483" cy="2055.7" r="37" stroke="#000" stroke-width="6" fill="#fff"/>
<circle cx="518.1" cy="2070.2" r="3.2" fill="#000"/>
<circle cx="497.5" cy="2090.8" r="3.2" fill="#000"/>
<circle cx="468.5" cy="2090.8" r="3.2" fill="#000"/>
<circle cx="447.9" cy="2070.2" r="3.2" fill="#000"/>
<circle cx="447.9" cy="2041.2" r="3.2" fill="#000"/>
<circle cx="468.5" cy="2020.6" r="3.2" fill="#000"/>
<circle cx="497.5" cy="2020.6" r="3.2" fill="#000"/>
<circle cx="518.1" cy="2041.2" r="3.2" fill="#000"/>
<circle cx="483" cy="2055.7" r="29" stroke="#000" stroke-width="3.2" fill="none"/>
<circle cx="483" cy="2055.7" r="21" stroke="#1a1a1a" stroke-width="13" fill="none"/>
<circle cx="483" cy="2055.7" r="24.5" stroke="#888" stroke-width="1" fill="none"/>
<circle cx="483" cy="2055.7" r="19.7" stroke="#fff" stroke-width="1" fill="none"/>
<circle cx="483" cy="2055.7" r="16.5" stroke="#888" stroke-width="1" fill="none"/>
<circle cx="483" cy="2055.7" r="7.5" fill="#111"/>
<circle cx="483" cy="2055.7" r="5" stroke="#888" stroke-width="1" fill="none"/>
<line x1="440" y1="2055.7" x2="526" y2="2055.7" stroke="#555" stroke-width="1"  shape-rendering="crispEdges"/>
<line x1="483" y1="2012.7" x2="483" y2="2098.7" stroke="#555" stroke-width="1"  shape-rendering="crispEdges"/>
<line x1="451" y1="2055.7" x2="455" y2="2055.7" stroke="#fff" stroke-width="1"  shape-rendering="crispEdges"/>
<line x1="511" y1="2055.7" x2="515" y2="2055.7" stroke="#fff" stroke-width="1"  shape-rendering="crispEdges"/>
<line x1="483" y1="2023.7" x2="483" y2="2027.7" stroke="#fff" stroke-width="1"  shape-rendering="crispEdges"/>
<line x1="483" y1="2083.7" x2="483" y2="2087.7" stroke="#fff" stroke-width="1"  shape-rendering="crispEdges"/>
<circle cx="509.5" cy="2214" r="37" stroke="#000" stroke-width="6" fill="#fff"/>
<circle cx="544.6" cy="2228.5" r="3.2" fill="#000"/>
<circle cx="524" cy="2249.1" r="3.2" fill="#000"/>
<circle cx="495" cy="2249.1" r="3.2" fill="#000"/>
<circle cx="474.4" cy="2228.5" r="3.2" fill="#000"/>
<circle cx="474.4" cy="2199.5" r="3.2" fill="#000"/>
<circle cx="495" cy="2178.9" r="3.2" fill="#000"/>
<circle cx="524" cy="2178.9" r="3.2" fill="#000"/>
<circle cx="544.6" cy="2199.5" r="3.2" fill="#000"/>
<circle cx="509.5" cy="2214" r="29" stroke="#000" stroke-width="3.2" fill="none"/>
<circle cx="509.5" cy="2214" r="21" stroke="#1a1a1a" stroke-width="13" fill="none"/>
<circle cx="509.5" cy="2214" r="24.5" stroke="#888" stroke-width="1" fill="none"/>
<circle cx="509.5" cy="2214" r="19.7" stroke="#fff" stroke-width="1" fill="none"/>
<circle cx="509.5" cy="2214" r="16.5" stroke="#888" stroke-width="1" fill="none"/>
<circle cx="509.5" cy="2214" r="7.5" fill="#111"/>
<circle cx="509.5" cy="2214" r="5" stroke="#888" stroke-width="1" fill="none"/>
<line x1="466.5" y1="2214" x2="552.5" y2="2214" stroke="#555" stroke-width="1"  shape-rendering="crispEdges"/>
<line x1="509.5" y1="2171" x2="509.5" y2="2257" stroke="#555" stroke-width="1"  shape-rendering="crispEdges"/>
<line x1="477.5" y1="2214" x2="481.5" y2="2214" stroke="#fff" stroke-width="1"  shape-rendering="crispEdges"/>
<line x1="537.5" y1="2214" x2="541.5" y2="2214" stroke="#fff" stroke-width="1"  shape-rendering="crispEdges"/>
<line x1="509.5" y1="2182" x2="509.5" y2="2186" stroke="#fff" stroke-width="1"  shape-rendering="crispEdges"/>
<line x1="509.5" y1="2242" x2="509.5" y2="2246" stroke="#fff" stroke-width="1"  shape-rendering="crispEdges"/>
<circle cx="624.5" cy="2214" r="37" stroke="#000" stroke-width="6" fill="#fff"/>
<circle cx="659.6" cy="2228.5" r="3.2" fill="#000"/>
<circle cx="639" cy="2249.1" r="3.2" fill="#000"/>
<circle cx="610" cy="2249.1" r="3.2" fill="#000"/>
<circle cx="589.4" cy="2228.5" r="3.2" fill="#000"/>
<circle cx="589.4" cy="2199.5" r="3.2" fill="#000"/>
<circle cx="610" cy="2178.9" r="3.2" fill="#000"/>
<circle cx="639" cy="2178.9" r="3.2" fill="#000"/>
<circle cx="659.6" cy="2199.5" r="3.2" fill="#000"/>
<circle cx="624.5" cy="2214" r="29" stroke="#000" stroke-width="3.2" fill="none"/>
<circle cx="624.5" cy="2214" r="21" stroke="#1a1a1a" stroke-width="13" fill="none"/>
<circle cx="624.5" cy="2214" r="24.5" stroke="#888" stroke-width="1" fill="none"/>
<circle cx="624.5" cy="2214" r="19.7" stroke="#fff" stroke-width="1" fill="none"/>
<circle cx="624.5" cy="2214" r="16.5" stroke="#888" stroke-width="1" fill="none"/>
<circle cx="624.5" cy="2214" r="7.5" fill="#111"/>
<circle cx="624.5" cy="2214" r="5" stroke="#888" stroke-width="1" fill="none"/>
<line x1="581.5" y1="2214" x2="667.5" y2="2214" stroke="#555" stroke-width="1"  shape-rendering="crispEdges"/>
<line x1="624.5" y1="2171" x2="624.5" y2="2257" stroke="#555" stroke-width="1"  shape-rendering="crispEdges"/>
<line x1="592.5" y1="2214" x2="596.5" y2="2214" stroke="#fff" stroke-width="1"  shape-rendering="crispEdges"/>
<line x1="652.5" y1="2214" x2="656.5" y2="2214" stroke="#fff" stroke-width="1"  shape-rendering="crispEdges"/>
<line x1="624.5" y1="2182" x2="624.5" y2="2186" stroke="#fff" stroke-width="1"  shape-rendering="crispEdges"/>
<line x1="624.5" y1="2242" x2="624.5" y2="2246" stroke="#fff" stroke-width="1"  shape-rendering="crispEdges"/>
<g transform="matrix(-1 0 0 1 735 0)">
<text x="367.5" y="2111" font-family="Liberation Sans" font-size="22" font-weight="bold" fill="#000" text-anchor="middle" letter-spacing="-1">ANT 2100</text>
<text x="250" y="2111" font-family="Liberation Sans" font-size="22" font-weight="bold" fill="#000" text-anchor="middle" letter-spacing="-1">ANT 1800</text>
</g>
<text x="502" y="2174" font-family="Liberation Sans" font-size="22" font-weight="bold" fill="#000" text-anchor="middle" letter-spacing="-1">ANT 1800</text>
<text x="619" y="2174" font-family="Liberation Sans" font-size="22" font-weight="bold" fill="#000" text-anchor="middle" letter-spacing="-1">ANT 2100</text>
<line x1="42" y1="1971.5" x2="277" y2="1971.5" stroke="#7d7d7d" stroke-width="1"  shape-rendering="crispEdges"/>
<line x1="105" y1="2055.7" x2="368" y2="2055.7" stroke="#7d7d7d" stroke-width="1"  shape-rendering="crispEdges"/>
<line x1="42" y1="2214" x2="509" y2="2214" stroke="#7d7d7d" stroke-width="1"  shape-rendering="crispEdges"/>
<line x1="51" y1="1971.5" x2="51" y2="2214" stroke="#7d7d7d" stroke-width="1"  shape-rendering="crispEdges"/>
<polygon points="51,1971.5 57.5,2011.5 44.5,2011.5" stroke="#7d7d7d" stroke-width="0.5" fill="#7d7d7d" stroke-linejoin="round" />
<polygon points="51,2214 44.5,2174 57.5,2174" stroke="#7d7d7d" stroke-width="0.5" fill="#7d7d7d" stroke-linejoin="round" />
<text x="46" y="2094" font-family="Liberation Sans" font-size="27" font-weight="normal" fill="#707070" text-anchor="middle" transform="rotate(-90 46 2094)" >84</text>
<line x1="113" y1="1917" x2="113" y2="2112" stroke="#7d7d7d" stroke-width="1"  shape-rendering="crispEdges"/>
<polygon points="113,1971.5 106.5,1931.5 119.5,1931.5" stroke="#7d7d7d" stroke-width="0.5" fill="#7d7d7d" stroke-linejoin="round" />
<polygon points="113,2055.7 119.5,2095.7 106.5,2095.7" stroke="#7d7d7d" stroke-width="0.5" fill="#7d7d7d" stroke-linejoin="round" />
<text x="108.5" y="2014" font-family="Liberation Sans" font-size="27" font-weight="normal" fill="#707070" text-anchor="middle" transform="rotate(-90 108.5 2014)" >29</text>
<line x1="368" y1="1890" x2="368" y2="2055" stroke="#7d7d7d" stroke-width="1"  shape-rendering="crispEdges"/>
<line x1="483" y1="1890" x2="483" y2="2055" stroke="#7d7d7d" stroke-width="1"  shape-rendering="crispEdges"/>
<line x1="509.5" y1="1890" x2="509.5" y2="2214" stroke="#7d7d7d" stroke-width="1"  shape-rendering="crispEdges"/>
<line x1="278" y1="1899" x2="656.5" y2="1899" stroke="#7d7d7d" stroke-width="1"  shape-rendering="crispEdges"/>
<polygon points="368,1899 408,1892.5 408,1905.5" stroke="#7d7d7d" stroke-width="0.5" fill="#7d7d7d" stroke-linejoin="round" />
<polygon points="483,1899 443,1905.5 443,1892.5" stroke="#7d7d7d" stroke-width="0.5" fill="#7d7d7d" stroke-linejoin="round" />
<polygon points="509.5,1899 549.5,1892.5 549.5,1905.5" stroke="#7d7d7d" stroke-width="0.5" fill="#7d7d7d" stroke-linejoin="round" />
<text x="302" y="1892.5" font-family="Liberation Sans" font-size="27" font-weight="normal" fill="#707070" text-anchor="middle" >40</text>
<text x="642" y="1892.5" font-family="Liberation Sans" font-size="27" font-weight="normal" fill="#707070" text-anchor="middle" >9</text>
<line x1="509.5" y1="2254" x2="509.5" y2="2426" stroke="#7d7d7d" stroke-width="1"  shape-rendering="crispEdges"/>
<line x1="624.5" y1="2254" x2="624.5" y2="2426" stroke="#7d7d7d" stroke-width="1"  shape-rendering="crispEdges"/>
<line x1="452.5" y1="2417.5" x2="682.5" y2="2417.5" stroke="#7d7d7d" stroke-width="1"  shape-rendering="crispEdges"/>
<polygon points="509.5,2417.5 469.5,2424 469.5,2411" stroke="#7d7d7d" stroke-width="0.5" fill="#7d7d7d" stroke-linejoin="round" />
<polygon points="624.5,2417.5 664.5,2411 664.5,2424" stroke="#7d7d7d" stroke-width="0.5" fill="#7d7d7d" stroke-linejoin="round" />
<text x="568" y="2410" font-family="Liberation Sans" font-size="27" font-weight="normal" fill="#707070" text-anchor="middle" >40</text>
<rect x="200" y="1926.5" width="162" height="39.5" rx="0" stroke="#000" stroke-width="2.5" fill="none" />
<text x="281" y="1956.8" font-family="Liberation Sans" font-size="29.3" font-weight="bold" fill="#000" text-anchor="middle" >ANT 2100</text>
<rect x="516" y="1926.5" width="162" height="39.5" rx="0" stroke="#000" stroke-width="2.5" fill="none" />
<text x="597" y="1956.8" font-family="Liberation Sans" font-size="29.3" font-weight="bold" fill="#000" text-anchor="middle" >ANT 1800</text>
<rect x="345" y="2270" width="161.5" height="39" rx="0" stroke="#000" stroke-width="2.5" fill="none" />
<text x="425.8" y="2300" font-family="Liberation Sans" font-size="29.3" font-weight="bold" fill="#000" text-anchor="middle" >ANT 1800</text>
<rect x="634" y="2274" width="162" height="39" rx="0" stroke="#000" stroke-width="2.5" fill="none" />
<text x="715" y="2304" font-family="Liberation Sans" font-size="29.3" font-weight="bold" fill="#000" text-anchor="middle" >ANT 2100</text>
<rect x="876" y="2046" width="176" height="51" rx="0" stroke="#000" stroke-width="2.5" fill="none" />
<text x="964" y="2088.1" font-family="Liberation Sans" font-size="46" font-weight="bold" fill="#000" text-anchor="middle" >Mod. 2</text>
<rect x="876" y="2186" width="176" height="52" rx="0" stroke="#000" stroke-width="2.5" fill="none" />
<text x="964" y="2228.6" font-family="Liberation Sans" font-size="46" font-weight="bold" fill="#000" text-anchor="middle" >Mod. 1</text>
<text x="736" y="2426.5" font-family="Liberation Sans" font-size="35.5" font-weight="bold" fill="#000" text-anchor="start" >4.3-10 connector</text>
<line x1="730" y1="2435" x2="1014" y2="2435" stroke="#000" stroke-width="1.5" />
<line x1="730" y1="2435" x2="555" y2="2267" stroke="#000" stroke-width="1.5" />
<polygon points="535,2247.5 562.9,2264.6 553.3,2274.7" stroke="#000" stroke-width="0.5" fill="#000" stroke-linejoin="round" />
<polygon points="1529,1844 1543,1811.8 1602,1844.4 1612.8,1861.9 1660.8,1888 1660.8,2214.6 1667,2230 1667,2252 1640,2262 1529,2204" stroke="none" stroke-width="0" fill="#a6aec3" stroke-linejoin="round" />
<polygon points="1529,1844 1538.8,1840 1538.8,2200 1529,2204" stroke="none" stroke-width="0" fill="#eef0f5" stroke-linejoin="round" />
<polygon points="1538.8,1840 1545,1838 1545,2195 1538.8,2200" stroke="none" stroke-width="0" fill="#c3c9d7" stroke-linejoin="round" />
<path d="M1545 1845 L1590 1868 Q1594 1872 1594 1878 L1594 2190" stroke="#f0f2f7" stroke-width="3" fill="none" stroke-linejoin="round" />
<path d="M1548 1858 L1587 1878 Q1590 1881 1590 1886 L1590 2185" stroke="#8b93a8" stroke-width="1" fill="none" stroke-linejoin="round" />
<polygon points="1602,1846 1610.7,1850 1610.7,2216.8 1602,2212" stroke="none" stroke-width="0" fill="#f1f3f8" stroke-linejoin="round" />
<line x1="1611.8" y1="1864" x2="1611.8" y2="2182" stroke="#59627a" stroke-width="1"  shape-rendering="crispEdges"/>
<polygon points="1612.8,1861.9 1660.8,1888 1660.8,1895 1612.8,1869" stroke="none" stroke-width="0" fill="#b4bbcc" stroke-linejoin="round" />
<line x1="1617" y1="1818" x2="1617" y2="1862" stroke="#c8c8c8" stroke-width="2" />
<line x1="1597" y1="1836" x2="1607" y2="1830" stroke="#c8c8c8" stroke-width="2" />
<polygon points="1563.8,1986 1577,1990 1577,2043.7 1563.8,2040" stroke="none" stroke-width="0" fill="#cac8bd" stroke-linejoin="round" />
<polygon points="1624.8,2022 1636.8,2026 1636.8,2079.6 1624.8,2076" stroke="none" stroke-width="0" fill="#d6cba6" stroke-linejoin="round" />
<path d="M1600 2150 L1600 2203 Q1600 2222 1583 2228 L1560 2238" stroke="#f3f5f9" stroke-width="5" fill="none" stroke-linejoin="round" />
<polygon points="1608,2205 1660.8,2214.6 1667,2230 1667,2246 1630,2268 1590,2292 1575,2262" stroke="none" stroke-width="0" fill="#b0b7c9" stroke-linejoin="round" />
<line x1="1612" y1="2180" x2="1660" y2="2212" stroke="#8b93a8" stroke-width="1" stroke-dasharray="3 2"/>
<polygon points="1529,2115 1545,2112 1584,2140 1584,2204 1545,2206 1529,2200" stroke="none" stroke-width="0" fill="#d9dde7" stroke-linejoin="round" />
<ellipse cx="1556" cy="2152" rx="25" ry="38" fill="#eceef4" stroke="#a4abbb" stroke-width="1.2" transform="rotate(-10 1556 2152)"/>
<ellipse cx="1558" cy="2152" rx="17" ry="28" fill="#f8f9fc" stroke="#c4c9d5" stroke-width="1" transform="rotate(-10 1558 2152)"/>
<path d="M1536 2130 Q1550 2118 1568 2126" stroke="#8f97ab" stroke-width="3" fill="none" stroke-linejoin="round" />
<path d="M1545 2180 Q1560 2190 1578 2176" stroke="#8f97ab" stroke-width="3" fill="none" stroke-linejoin="round" />
<polygon points="1172,2362 1529,2178 1545,2195 1590,2210 1612,2250 1640,2262 1600,2282 1380,2420 1330,2445 1262,2430 1200,2405 1178,2392" stroke="none" stroke-width="0" fill="#a2aabe" stroke-linejoin="round" />
<polygon points="1176,2352 1529,2174 1534,2186 1180,2365" stroke="none" stroke-width="0" fill="#f3f5f9" stroke-linejoin="round" />
<polygon points="1180,2365 1534,2186 1538,2194 1184,2374" stroke="none" stroke-width="0" fill="#c7ccd9" stroke-linejoin="round" />
<polygon points="1200,2385 1530,2208 1592,2228 1605,2262 1560,2292 1380,2405 1290,2425 1210,2400" stroke="none" stroke-width="0" fill="#7e879f" stroke-linejoin="round" />
<polygon points="1196,2378 1520,2204 1524,2209 1200,2384" stroke="none" stroke-width="0" fill="#e2e6ee" stroke-linejoin="round" />
<polygon points="1306,2388 1495,2283 1498,2288 1309,2393" stroke="none" stroke-width="0" fill="#eef0f5" stroke-linejoin="round" />
<polygon points="1200,2405 1290,2425 1380,2410 1380,2420 1330,2445 1262,2430" stroke="none" stroke-width="0" fill="#b2b9ca" stroke-linejoin="round" />
<polygon points="1594,2200 1612,2212 1612,2250 1640,2262 1600,2282 1575,2262" stroke="none" stroke-width="0" fill="#a4acc0" stroke-linejoin="round" />
<polygon points="1382,2424 1572,2318 1617,2316 1618,2420 1610,2432 1390,2559 1388,2520 1386,2440" stroke="#a8a8a8" stroke-width="1.2" fill="#ffffff" stroke-linejoin="round" />
<path d="M1390 2559 L1606 2434 Q1617 2428 1617 2415 L1618 2330" stroke="#9a9a9a" stroke-width="2" fill="none" stroke-linejoin="round" />
<line x1="1488" y1="2398" x2="1488" y2="2500" stroke="#e6e6e6" stroke-width="3" />
<path d="M1455 2492 L1455 2461 L1546 2412" stroke="#b0b0b0" stroke-width="1.5" fill="none" stroke-linejoin="round" />
<ellipse cx="1402" cy="2528" rx="4" ry="8" fill="#fff" stroke="#aaa" stroke-width="1.5" transform="rotate(0 1402 2528)"/>
<ellipse cx="1597" cy="2415" rx="4" ry="8" fill="#fff" stroke="#aaa" stroke-width="1.5" transform="rotate(0 1597 2415)"/>
<path d="M1480 2400 Q1500 2390 1510 2400 Q1530 2385 1545 2390" stroke="#bbb" stroke-width="1.2" fill="none" stroke-linejoin="round" />
<polygon points="1467.7,2453 1545.6,2421.4 1545.6,2443 1468.6,2480.6" stroke="none" stroke-width="0" fill="#575757" stroke-linejoin="round" />
<line x1="1471" y1="2454.7" x2="1472" y2="2461.7" stroke="#e0e0e0" stroke-width="1.6" />
<line x1="1472" y1="2464.7" x2="1473" y2="2472.7" stroke="#e0e0e0" stroke-width="1.6" />
<line x1="1476" y1="2452.6" x2="1477" y2="2459.6" stroke="#e0e0e0" stroke-width="1.6" />
<line x1="1477" y1="2462.6" x2="1478" y2="2470.6" stroke="#e0e0e0" stroke-width="1.6" />
<line x1="1481" y1="2450.6" x2="1482" y2="2457.6" stroke="#e0e0e0" stroke-width="1.6" />
<line x1="1482" y1="2460.6" x2="1483" y2="2468.6" stroke="#e0e0e0" stroke-width="1.6" />
<line x1="1486" y1="2448.6" x2="1487" y2="2455.6" stroke="#e0e0e0" stroke-width="1.6" />
<line x1="1487" y1="2458.6" x2="1488" y2="2466.6" stroke="#e0e0e0" stroke-width="1.6" />
<line x1="1491" y1="2446.6" x2="1492" y2="2453.6" stroke="#e0e0e0" stroke-width="1.6" />
<line x1="1492" y1="2456.6" x2="1493" y2="2464.6" stroke="#e0e0e0" stroke-width="1.6" />
<line x1="1496" y1="2444.5" x2="1497" y2="2451.5" stroke="#e0e0e0" stroke-width="1.6" />
<line x1="1497" y1="2454.5" x2="1498" y2="2462.5" stroke="#e0e0e0" stroke-width="1.6" />
<line x1="1501" y1="2442.5" x2="1502" y2="2449.5" stroke="#e0e0e0" stroke-width="1.6" />
<line x1="1502" y1="2452.5" x2="1503" y2="2460.5" stroke="#e0e0e0" stroke-width="1.6" />
<line x1="1506" y1="2440.5" x2="1507" y2="2447.5" stroke="#e0e0e0" stroke-width="1.6" />
<line x1="1507" y1="2450.5" x2="1508" y2="2458.5" stroke="#e0e0e0" stroke-width="1.6" />
<line x1="1511" y1="2438.5" x2="1512" y2="2445.5" stroke="#e0e0e0" stroke-width="1.6" />
<line x1="1512" y1="2448.5" x2="1513" y2="2456.5" stroke="#e0e0e0" stroke-width="1.6" />
<line x1="1516" y1="2436.4" x2="1517" y2="2443.4" stroke="#e0e0e0" stroke-width="1.6" />
<line x1="1517" y1="2446.4" x2="1518" y2="2454.4" stroke="#e0e0e0" stroke-width="1.6" />
<line x1="1521" y1="2434.4" x2="1522" y2="2441.4" stroke="#e0e0e0" stroke-width="1.6" />
<line x1="1522" y1="2444.4" x2="1523" y2="2452.4" stroke="#e0e0e0" stroke-width="1.6" />
<line x1="1526" y1="2432.4" x2="1527" y2="2439.4" stroke="#e0e0e0" stroke-width="1.6" />
<line x1="1527" y1="2442.4" x2="1528" y2="2450.4" stroke="#e0e0e0" stroke-width="1.6" />
<line x1="1531" y1="2430.4" x2="1532" y2="2437.4" stroke="#e0e0e0" stroke-width="1.6" />
<line x1="1532" y1="2440.4" x2="1533" y2="2448.4" stroke="#e0e0e0" stroke-width="1.6" />
<line x1="1536" y1="2428.3" x2="1537" y2="2435.3" stroke="#e0e0e0" stroke-width="1.6" />
<line x1="1537" y1="2438.3" x2="1538" y2="2446.3" stroke="#e0e0e0" stroke-width="1.6" />
<line x1="1541" y1="2426.3" x2="1542" y2="2433.3" stroke="#e0e0e0" stroke-width="1.6" />
<line x1="1542" y1="2436.3" x2="1543" y2="2444.3" stroke="#e0e0e0" stroke-width="1.6" />
<line x1="1469" y1="2480" x2="1469" y2="2490" stroke="#333" stroke-width="3" />
<path d="M1490 2502 Q1500 2532 1540 2534 L1584 2534" stroke="#5a5a5a" stroke-width="24" fill="none"/>
<path d="M1490 2502 Q1500 2532 1540 2534 L1584 2534" stroke="#dcdcdc" stroke-width="14" fill="none" stroke-dasharray="1.8 3.2"/>
<path d="M1578 2458 Q1618 2462 1624 2500" stroke="#5a5a5a" stroke-width="22" fill="none"/>
<path d="M1578 2458 Q1618 2462 1624 2500" stroke="#dcdcdc" stroke-width="12" fill="none" stroke-dasharray="1.8 3.2"/>
<polygon points="1582,2492 1616,2480 1619,2530 1584,2540" stroke="#aaa" stroke-width="1" fill="#eaeaea" stroke-linejoin="round" />
<polygon points="1616,2480 1636,2488 1645,2525 1640,2542 1619,2546" stroke="none" stroke-width="0" fill="#3a3a3a" stroke-linejoin="round" />
<polygon points="1393,2474 1408,2467 1429,2484 1429,2494 1414,2500 1393,2486" stroke="#8a8a8a" stroke-width="1" fill="#d4d4d4" stroke-linejoin="round" />
<line x1="1398" y1="2471" x2="1398" y2="2487" stroke="#888" stroke-width="1"  shape-rendering="crispEdges"/>
<line x1="1405" y1="2475" x2="1405" y2="2491" stroke="#888" stroke-width="1"  shape-rendering="crispEdges"/>
<line x1="1412" y1="2479" x2="1412" y2="2495" stroke="#888" stroke-width="1"  shape-rendering="crispEdges"/>
<line x1="1419" y1="2483" x2="1419" y2="2499" stroke="#888" stroke-width="1"  shape-rendering="crispEdges"/>
<polygon points="1337,2396 1518,2294 1572,2318 1380,2424" stroke="none" stroke-width="0" fill="#7e879f" stroke-linejoin="round" />
<polygon points="1245,2366 1268,2357 1383,2428 1366,2446" stroke="none" stroke-width="0" fill="#d7d3ce" stroke-linejoin="round" />
<polygon points="1455,2243 1478,2236 1592,2305 1575,2325" stroke="none" stroke-width="0" fill="#d7d3ce" stroke-linejoin="round" />
<polygon points="1262,2378 1478,2257 1500,2292 1322,2398" stroke="none" stroke-width="0" fill="#d7d3ce" stroke-linejoin="round" />
<polygon points="1290,2366 1478,2262 1482,2266 1292,2371" stroke="none" stroke-width="0" fill="#eef0f5" stroke-linejoin="round" />
<ellipse cx="1300" cy="2384" rx="4" ry="3" fill="#fff" stroke="none" stroke-width="0" transform="rotate(0 1300 2384)"/>
<ellipse cx="1520" cy="2279" rx="4" ry="3" fill="#fff" stroke="none" stroke-width="0" transform="rotate(0 1520 2279)"/>
<polygon points="1496,2227 1540,2204 1562,2213 1518,2237" stroke="none" stroke-width="0" fill="#eef0f5" stroke-linejoin="round" />
<polygon points="1500,2242 1537,2222 1576,2242 1537,2269" stroke="#9aa1b0" stroke-width="1" fill="#d9dce4" stroke-linejoin="round" />
<ellipse cx="1537" cy="2241" rx="19" ry="9" fill="#e8141e" stroke="none" stroke-width="0" transform="rotate(0 1537 2241)"/>
<polygon points="1518,2241 1556,2241 1556,2250 1518,2250" stroke="none" stroke-width="0" fill="#e8141e" stroke-linejoin="round" />
<ellipse cx="1537" cy="2255" rx="18" ry="9" fill="#262626" stroke="none" stroke-width="0" transform="rotate(0 1537 2255)"/>
<ellipse cx="1537" cy="2258" rx="4" ry="3" fill="#666" stroke="none" stroke-width="0" transform="rotate(0 1537 2258)"/>
<ellipse cx="1507" cy="2244" rx="5" ry="4" fill="#e6e8ef" stroke="#99a" stroke-width="0.8" transform="rotate(0 1507 2244)"/>
<ellipse cx="1570" cy="2244" rx="5" ry="4" fill="#e6e8ef" stroke="#99a" stroke-width="0.8" transform="rotate(0 1570 2244)"/>
<ellipse cx="1537" cy="2228" rx="5" ry="4" fill="#e6e8ef" stroke="#99a" stroke-width="0.8" transform="rotate(0 1537 2228)"/>
<ellipse cx="1537" cy="2266" rx="5" ry="4" fill="#e6e8ef" stroke="#99a" stroke-width="0.8" transform="rotate(0 1537 2266)"/>
<ellipse cx="1255" cy="2369" rx="10" ry="8" fill="#e6e9f0" stroke="#a0a6b4" stroke-width="0.8" transform="rotate(0 1255 2369)"/>
<ellipse cx="1255" cy="2375" rx="9" ry="7.5" fill="#f2f4f8" stroke="#a8aebb" stroke-width="0.8" transform="rotate(0 1255 2375)"/>
<ellipse cx="1255" cy="2376" rx="3" ry="2.5" fill="#aab0bd" stroke="none" stroke-width="0" transform="rotate(0 1255 2376)"/>
<ellipse cx="1467" cy="2248.5" rx="10" ry="8" fill="#e6e9f0" stroke="#a0a6b4" stroke-width="0.8" transform="rotate(0 1467 2248.5)"/>
<ellipse cx="1467" cy="2254.5" rx="9" ry="7.5" fill="#f2f4f8" stroke="#a8aebb" stroke-width="0.8" transform="rotate(0 1467 2254.5)"/>
<ellipse cx="1467" cy="2255.5" rx="3" ry="2.5" fill="#aab0bd" stroke="none" stroke-width="0" transform="rotate(0 1467 2255.5)"/>
<ellipse cx="1576.7" cy="2312.3" rx="10" ry="8" fill="#e6e9f0" stroke="#a0a6b4" stroke-width="0.8" transform="rotate(0 1576.7 2312.3)"/>
<ellipse cx="1576.7" cy="2318.3" rx="9" ry="7.5" fill="#f2f4f8" stroke="#a8aebb" stroke-width="0.8" transform="rotate(0 1576.7 2318.3)"/>
<ellipse cx="1576.7" cy="2319.3" rx="3" ry="2.5" fill="#aab0bd" stroke="none" stroke-width="0" transform="rotate(0 1576.7 2319.3)"/>
<ellipse cx="1366.9" cy="2433.2" rx="10" ry="8" fill="#e6e9f0" stroke="#a0a6b4" stroke-width="0.8" transform="rotate(0 1366.9 2433.2)"/>
<ellipse cx="1366.9" cy="2439.2" rx="9" ry="7.5" fill="#f2f4f8" stroke="#a8aebb" stroke-width="0.8" transform="rotate(0 1366.9 2439.2)"/>
<ellipse cx="1366.9" cy="2440.2" rx="3" ry="2.5" fill="#aab0bd" stroke="none" stroke-width="0" transform="rotate(0 1366.9 2440.2)"/>
<ellipse cx="1371" cy="2410.4" rx="10" ry="8" fill="#e6e9f0" stroke="#a0a6b4" stroke-width="0.8" transform="rotate(0 1371 2410.4)"/>
<ellipse cx="1371" cy="2416.4" rx="9" ry="7.5" fill="#f2f4f8" stroke="#a8aebb" stroke-width="0.8" transform="rotate(0 1371 2416.4)"/>
<ellipse cx="1371" cy="2417.4" rx="3" ry="2.5" fill="#aab0bd" stroke="none" stroke-width="0" transform="rotate(0 1371 2417.4)"/>
<ellipse cx="1581" cy="2287" rx="10" ry="8" fill="#e6e9f0" stroke="#a0a6b4" stroke-width="0.8" transform="rotate(0 1581 2287)"/>
<ellipse cx="1581" cy="2293" rx="9" ry="7.5" fill="#f2f4f8" stroke="#a8aebb" stroke-width="0.8" transform="rotate(0 1581 2293)"/>
<ellipse cx="1581" cy="2294" rx="3" ry="2.5" fill="#aab0bd" stroke="none" stroke-width="0" transform="rotate(0 1581 2294)"/>
<polygon points="1262,2428 1298.4,2409.9 1335,2432.7 1298.4,2453.2" stroke="#8a7020" stroke-width="1" fill="#c9a232" stroke-linejoin="round" />
<ellipse cx="1268" cy="2430" rx="5" ry="4.5" fill="#e8eaf0" stroke="#99a" stroke-width="0.8" transform="rotate(0 1268 2430)"/>
<ellipse cx="1298" cy="2413" rx="5" ry="4.5" fill="#e8eaf0" stroke="#99a" stroke-width="0.8" transform="rotate(0 1298 2413)"/>
<ellipse cx="1330" cy="2432" rx="5" ry="4.5" fill="#e8eaf0" stroke="#99a" stroke-width="0.8" transform="rotate(0 1330 2432)"/>
<ellipse cx="1298" cy="2450" rx="5" ry="4.5" fill="#e8eaf0" stroke="#99a" stroke-width="0.8" transform="rotate(0 1298 2450)"/>
<polygon points="1372.5,2274 1429.5,2274 1429.5,2290.7 1372.5,2290.7" stroke="none" stroke-width="0" fill="#dde1ea" stroke-linejoin="round" />
<ellipse cx="1401" cy="2274" rx="28.5" ry="7" fill="#eef0f6" stroke="none" stroke-width="0" transform="rotate(0 1401 2274)"/>
<polygon points="1371,2290.7 1375,2286.7 1427,2286.7 1431,2290.7 1431,2314 1371,2314" stroke="none" stroke-width="0" fill="#f2c21c" stroke-linejoin="round" />
<polygon points="1371,2305 1431,2305 1431,2311 1371,2311" stroke="none" stroke-width="0" fill="#f28c12" stroke-linejoin="round" />
<ellipse cx="1401" cy="2314" rx="30" ry="5" fill="#dcaa10" stroke="none" stroke-width="0" transform="rotate(0 1401 2314)"/>
<polygon points="1380.5,2314 1421.5,2314 1421.5,2346 1380.5,2346" stroke="none" stroke-width="0" fill="#f0c01a" stroke-linejoin="round" />
<ellipse cx="1401" cy="2346" rx="20.5" ry="8" fill="#f5cc2a" stroke="#c49400" stroke-width="0.8" transform="rotate(0 1401 2346)"/>
<ellipse cx="1401" cy="2346" rx="15.5" ry="5.5" fill="#fbf3d8" stroke="none" stroke-width="0" transform="rotate(0 1401 2346)"/>
<ellipse cx="1401" cy="2346" rx="3" ry="3" fill="#b09040" stroke="none" stroke-width="0" transform="rotate(0 1401 2346)"/>
<polygon points="1406.8,2354 1463.8,2354 1463.8,2368 1406.8,2368" stroke="none" stroke-width="0" fill="#dde1ea" stroke-linejoin="round" />
<ellipse cx="1435.3" cy="2354" rx="28.5" ry="7" fill="#eef0f6" stroke="none" stroke-width="0" transform="rotate(0 1435.3 2354)"/>
<polygon points="1405.3,2368 1409.3,2364 1461.3,2364 1465.3,2368 1465.3,2394 1405.3,2394" stroke="none" stroke-width="0" fill="#f2c21c" stroke-linejoin="round" />
<polygon points="1405.3,2382.5 1465.3,2382.5 1465.3,2388.5 1405.3,2388.5" stroke="none" stroke-width="0" fill="#f28c12" stroke-linejoin="round" />
<ellipse cx="1435.3" cy="2394" rx="30" ry="5" fill="#dcaa10" stroke="none" stroke-width="0" transform="rotate(0 1435.3 2394)"/>
<polygon points="1414.8,2394 1455.8,2394 1455.8,2423.5 1414.8,2423.5" stroke="none" stroke-width="0" fill="#f0c01a" stroke-linejoin="round" />
<ellipse cx="1435.3" cy="2423.5" rx="20.5" ry="8" fill="#f5cc2a" stroke="#c49400" stroke-width="0.8" transform="rotate(0 1435.3 2423.5)"/>
<ellipse cx="1435.3" cy="2423.5" rx="15.5" ry="5.5" fill="#fbf3d8" stroke="none" stroke-width="0" transform="rotate(0 1435.3 2423.5)"/>
<ellipse cx="1435.3" cy="2423.5" rx="3" ry="3" fill="#b09040" stroke="none" stroke-width="0" transform="rotate(0 1435.3 2423.5)"/>
<ellipse cx="1527" cy="1830" rx="13" ry="17" fill="#dcdcdc" stroke="#c4c4c4" stroke-width="1" transform="rotate(0 1527 1830)"/>
<ellipse cx="1181" cy="2375" rx="12" ry="16" fill="#dcdcdc" stroke="#c4c4c4" stroke-width="1" transform="rotate(0 1181 2375)"/>
<line x1="1175" y1="2026" x2="1175" y2="2355" stroke="#b8bcc8" stroke-width="1"  shape-rendering="crispEdges"/>
<line x1="1175" y1="2026" x2="1492" y2="1843" stroke="#e2e2e2" stroke-width="1.2" stroke-dasharray="3 3"/>
<polygon points="1353.9,1895.6 1392.7,1895.6 1392.7,1912.4 1353.9,1918.4" stroke="none" stroke-width="0" fill="#e2e6ef" stroke-linejoin="round" />
<ellipse cx="1373.3" cy="1914.4" rx="19.4" ry="6" fill="#f0f2f7" stroke="#aeb4c2" stroke-width="0.8" transform="rotate(0 1373.3 1914.4)"/>
<polygon points="1353.9,1882 1403.8,1880 1403.8,1897.6 1355.9,1903.6" stroke="none" stroke-width="0" fill="#f0c01c" stroke-linejoin="round" />
<polygon points="1362.2,1860.5 1402.9,1860.5 1402.9,1882 1362.2,1884" stroke="none" stroke-width="0" fill="#f2c41e" stroke-linejoin="round" />
<ellipse cx="1382.6" cy="1860.5" rx="20.4" ry="6" fill="#f7d040" stroke="none" stroke-width="0" transform="rotate(0 1382.6 1860.5)"/>
<polygon points="1353.9,1881 1403.8,1879 1403.8,1884 1353.9,1886" stroke="none" stroke-width="0" fill="#f28c12" stroke-linejoin="round" />
<polygon points="1416,1856.7 1460,1856.7 1460,1877 1416,1883" stroke="none" stroke-width="0" fill="#e2e6ef" stroke-linejoin="round" />
<ellipse cx="1438" cy="1879" rx="22" ry="6" fill="#f0f2f7" stroke="#aeb4c2" stroke-width="0.8" transform="rotate(0 1438 1879)"/>
<polygon points="1415,1846 1455.6,1844 1455.6,1858.7 1417,1864.7" stroke="none" stroke-width="0" fill="#f0c01c" stroke-linejoin="round" />
<polygon points="1424.2,1825.3 1463,1825.3 1463,1846 1424.2,1848" stroke="none" stroke-width="0" fill="#f2c41e" stroke-linejoin="round" />
<ellipse cx="1443.6" cy="1825.3" rx="19.4" ry="6" fill="#f7d040" stroke="none" stroke-width="0" transform="rotate(0 1443.6 1825.3)"/>
<polygon points="1415,1845 1455.6,1843 1455.6,1848 1415,1850" stroke="none" stroke-width="0" fill="#f28c12" stroke-linejoin="round" />
<polygon points="1455,1840 1475,1833 1486,1843 1470,1856" stroke="#aab" stroke-width="0.8" fill="#e6e9f0" stroke-linejoin="round" />
<ellipse cx="1259" cy="1965" rx="14" ry="11" fill="#eceef3" stroke="#aab" stroke-width="1" transform="rotate(0 1259 1965)"/>
<text x="1345" y="2110" font-family="Liberation Sans" font-size="8" font-weight="normal" fill="#888" text-anchor="middle" transform="rotate(-28 1345 2110)" >COMMSCOPE</text>
<text x="1375" y="1786" font-family="Liberation Sans" font-size="35.1" font-weight="bold" fill="#000" text-anchor="start" >Mod. labels</text>
<line x1="1375" y1="1795" x2="1572.5" y2="1795" stroke="#000" stroke-width="1.5" />
<line x1="1572.5" y1="1795" x2="1574" y2="1955" stroke="#000" stroke-width="1.5" />
<polygon points="1574.6,1991 1566.7,1951.1 1581.7,1950.9" stroke="#000" stroke-width="0.5" fill="#000" stroke-linejoin="round" />
<line x1="1574" y1="1795" x2="1622" y2="1995" stroke="#000" stroke-width="1.5" />
<polygon points="1632.7,2026.5 1613.5,1990.6 1627.8,1986.1" stroke="#000" stroke-width="0.5" fill="#000" stroke-linejoin="round" />
<text x="1680" y="2135" font-family="Liberation Sans" font-size="34.5" font-weight="bold" fill="#000" text-anchor="start" >VENT</text>
<line x1="1676" y1="2142.5" x2="1770" y2="2142.5" stroke="#000" stroke-width="1.5" />
<line x1="1676" y1="2142.5" x2="1600" y2="2153.6" stroke="#000" stroke-width="1.5" />
<polygon points="1561.7,2157.3 1600.7,2145.8 1602.3,2160.7" stroke="#000" stroke-width="0.5" fill="#000" stroke-linejoin="round" />
</svg>
</body></html>
